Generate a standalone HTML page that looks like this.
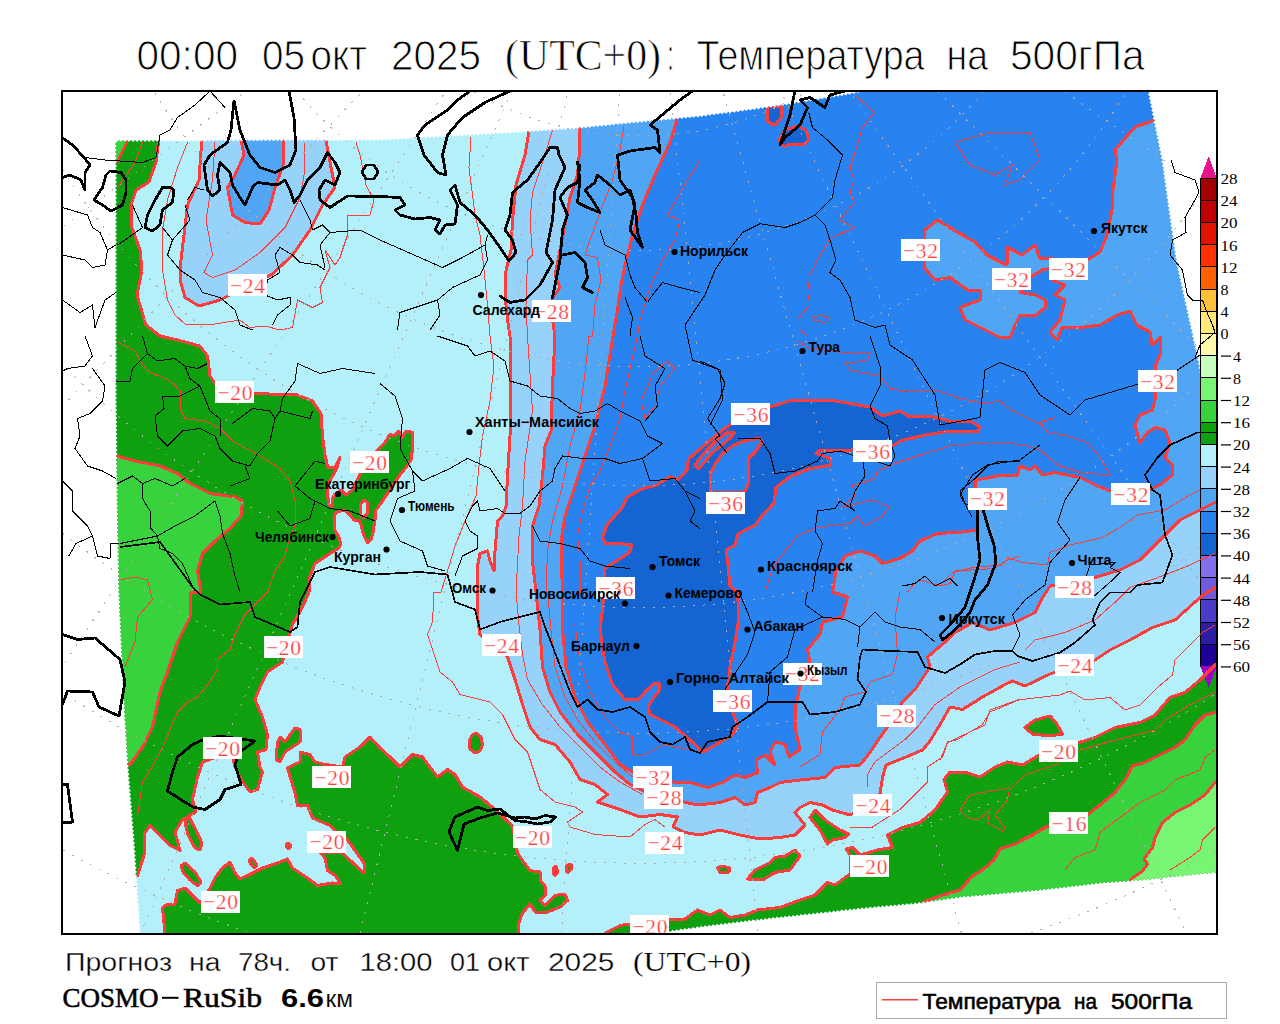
<!DOCTYPE html><html><head><meta charset="utf-8"><style>html,body{margin:0;padding:0;background:#fff}body{width:1280px;height:1024px;position:relative;overflow:hidden;font-family:"Liberation Sans",sans-serif}</style></head><body><svg width="1280" height="1024" viewBox="0 0 1280 1024" style="position:absolute;left:0;top:0">
<defs><clipPath id="fr"><rect x="62" y="91" width="1155" height="843"/></clipPath>
<clipPath id="cbclip"><rect x="1195" y="150" width="22" height="545"/></clipPath>
<clipPath id="dom"><polygon points="117,142 119,140.2 121,142 123,140.2 125,142 127,140.2 129,142 131,140.1 133.1,141.9 135.1,140.1 137.1,141.9 139.1,140.1 141.1,141.9 143.1,140.1 145.1,141.9 147.1,140.1 149.1,141.9 151.1,140.1 153.1,141.9 155.1,140.1 157.2,141.8 159.2,140 161.2,141.8 163.2,140 165.2,141.8 167.2,140 169.2,141.8 171.2,140 173.2,141.8 175.2,140 177.2,141.8 179.2,140 181.2,141.8 183.2,139.9 185.3,141.7 187.3,139.9 189.3,141.7 191.3,139.9 193.3,141.7 195.3,139.9 197.3,141.7 199.3,139.9 201.3,141.7 203.3,139.9 205.3,141.7 207.3,139.9 209.4,141.6 211.4,139.8 213.4,141.6 215.4,139.8 217.4,141.6 219.4,139.8 221.4,141.6 223.4,139.8 225.4,141.6 227.4,139.8 229.4,141.6 231.4,139.8 233.4,141.6 235.4,139.7 237.5,141.5 239.5,139.7 241.5,141.5 243.5,139.7 245.5,141.5 247.5,139.7 249.5,141.5 251.5,139.7 253.5,141.5 255.5,139.7 257.5,141.5 259.5,139.7 261.5,141.5 263.6,139.6 265.6,141.4 267.6,139.6 269.6,141.4 271.6,139.6 273.6,141.4 275.6,139.6 277.6,141.4 279.6,139.6 281.6,141.4 283.6,139.6 285.6,141.4 287.6,139.6 289.7,141.3 291.7,139.5 293.7,141.3 295.7,139.5 297.7,141.3 299.7,139.5 301.7,141.3 303.7,139.5 305.7,141.3 307.7,139.5 309.7,141.3 311.7,139.5 313.7,141.3 315.7,139.4 317.8,141.2 319.8,139.4 321.8,141.2 323.8,139.4 325.8,141.2 327.8,139.4 329.8,141.2 331.8,139.4 333.8,141.2 335.8,139.4 337.8,141.2 339.8,139.4 341.9,141.1 343.9,139.3 345.9,141.1 347.9,139.3 349.9,141.1 351.9,139.3 353.9,141.1 355.9,139.3 357.9,141.1 359.9,139.3 361.9,141.1 363.9,139.3 365.9,141.1 367.9,139.2 370,141 372,139.2 374,141 376,139.2 378,141 379.9,139.2 382,140.9 383.9,139 386,140.7 387.9,138.7 390,140.4 391.9,138.5 394,140.2 395.9,138.3 398,140 399.9,138.1 402,139.7 403.9,137.8 406,139.5 407.9,137.6 410,139.3 411.9,137.4 414,139.1 415.9,137.1 418,138.8 419.9,136.9 422,138.6 423.9,136.7 426,138.4 427.9,136.5 430,138.1 431.9,136.2 434,137.9 435.9,136 438,137.7 439.9,135.8 442,137.5 443.9,135.5 446,137.2 447.9,135.3 450,137 451.9,135.1 454,136.8 455.9,134.9 458,136.6 459.9,134.6 462,136.3 463.9,134.4 466,136.1 467.9,134.2 470,135.9 471.9,134 474,135.7 475.9,133.7 478,135.4 479.9,133.5 482,135.2 483.9,133.3 486,135 487.9,133.1 490,134.8 491.9,132.8 494,134.5 495.9,132.6 498,134.3 499.9,132.4 502,134.1 503.9,132.2 506,133.8 507.9,131.9 510,133.6 511.9,131.7 514,133.4 515.9,131.5 518,133.2 519.9,131.3 522,132.9 523.9,131 526,132.7 527.9,130.8 530,132.5 531.9,130.6 534,132.2 535.9,130.3 538,131.9 539.9,130 542,131.7 543.9,129.7 546,131.4 547.9,129.4 550,131.1 551.9,129.2 554,130.8 555.9,128.9 558,130.5 559.9,128.6 562,130.3 563.9,128.3 566,130 567.9,128 570,129.7 571.9,127.8 574,129.4 575.9,127.5 578,129.1 579.8,127.2 582,128.8 583.8,126.8 586,128.4 587.8,126.4 590,128 591.8,126 594,127.6 595.8,125.6 598,127.2 599.8,125.2 602,126.8 603.8,124.8 606,126.4 607.8,124.4 610,126 611.8,124 614,125.6 615.8,123.6 618,125.2 619.8,123.2 622,124.8 623.8,122.8 626,124.4 627.8,122.4 630,124 631.8,122 634,123.6 635.8,121.7 638,123.3 639.8,121.3 642,122.9 643.8,120.9 646,122.5 647.8,120.5 650,122.1 651.8,120.2 654,121.8 655.8,119.8 658,121.4 659.8,119.4 662,121 663.8,119.1 666,120.7 667.8,118.7 670,120.3 671.8,118.3 674,119.9 675.8,117.9 678,119.5 679.8,117.6 682,119.2 683.8,117.2 686,118.8 687.8,116.8 690,118.4 691.8,116.5 694,118.1 695.8,116.1 698,117.7 699.8,115.7 702,117.2 703.8,115.2 706.1,116.7 707.9,114.6 710.1,116.1 711.9,114.1 714.2,115.6 716,113.6 718.2,115.1 720,113 722.3,114.5 724.1,112.5 726.4,114 728.1,111.9 730.4,113.4 732.2,111.4 734.5,112.9 736.2,110.9 738.5,112.4 740.3,110.3 742.6,111.8 744.4,109.8 746.6,111.3 748.4,109.2 750.7,110.7 752.5,108.7 754.7,110.2 756.5,108.1 758.8,109.7 760.6,107.6 762.8,109.1 764.6,107.1 766.9,108.6 768.7,106.5 770.9,108 772.7,106 775,107.5 776.7,105.4 778.9,106.8 780.6,104.7 782.9,106.2 784.6,104.1 786.8,105.5 788.5,103.4 790.8,104.9 792.5,102.8 794.7,104.2 796.4,102.1 798.7,103.6 800.4,101.4 802.6,102.9 804.3,100.8 806.6,102.2 808.3,100.1 810.5,101.6 812.2,99.5 814.5,100.9 816.2,98.8 818.4,100.3 820.1,98.2 822.4,99.6 824,97.5 826.3,98.9 828,96.8 830.3,98.3 831.9,96.2 834.2,97.6 835.9,95.5 838.2,97 839.8,94.9 842.1,96.3 843.8,94.2 846.1,95.7 847.7,93.6 850,95 851.7,92.8 854.2,94.2 855.9,92 858.3,93.3 860.1,91.2 862.5,92.5 864.2,90.3 866.7,91.7 868.4,89.5 870.8,90.8 872.6,88.7 875,90 876.7,87.9 879,89.4 880.7,87.3 882.9,88.7 884.6,86.6 886.9,88.1 888.6,86 890.9,87.5 892.6,85.4 894.8,86.8 896.5,84.7 898.8,86.2 900.5,84.1 902.8,85.6 904.5,83.5 906.7,84.9 908.4,82.8 910.7,84.3 912.4,82.2 914.7,83.7 916.4,81.6 918.7,83 920.4,80.9 922.6,82.4 924.3,80.3 926.6,81.7 928.3,79.7 930.6,81.1 932.3,79 934.5,80.5 936.2,78.4 938.5,79.8 940.2,77.7 942.5,79.2 944.2,77.1 946.4,78.6 948.1,76.5 950.4,77.9 952.1,75.8 954.4,77.3 956.1,75.2 958.3,76.7 960,74.6 962.3,76 964,73.9 966.3,75.4 968,73.3 970.2,74.8 971.9,72.7 974.2,74.1 975.9,72 978.2,73.5 979.9,71.4 982.1,72.9 983.8,70.8 986.1,72.2 987.8,70.1 990.1,71.6 991.8,69.5 994,71 995.7,68.9 998,70.3 999.8,68.2 1002,69.8 1003.8,67.8 1006,69.4 1007.8,67.4 1010,68.9 1011.8,66.9 1014,68.5 1015.8,66.5 1018,68.1 1019.8,66.1 1022,67.7 1023.8,65.7 1026,67.3 1027.8,65.3 1030,66.8 1031.8,64.8 1034,66.4 1035.8,64.4 1038,66 1039.8,64 1042,65.6 1043.8,63.6 1046,65.1 1047.8,63.1 1050,64.7 1051.8,62.7 1054,64.3 1055.8,62.3 1058,63.9 1059.8,61.9 1062,63.5 1063.8,61.4 1066,63 1067.8,61 1070,62.6 1071.8,60.6 1074,62.2 1075.8,60.2 1078,61.8 1079.8,59.8 1082,61.3 1083.8,59.3 1086,60.9 1087.8,58.9 1090,60.5 1091.8,58.5 1094,60.1 1095.8,58.1 1098,59.6 1099.8,57.6 1102,59.2 1103.8,57.2 1106,58.8 1107.8,56.8 1110,58.4 1111.8,56.4 1114,58 1115.8,56 1118,57.5 1119.8,55.5 1122,57.1 1123.8,55.1 1126,56.7 1127.8,54.7 1130,56.3 1131.8,54.3 1134,55.8 1135.8,53.8 1138,55.4 1139.8,53.4 1142,55 1144.1,56.8 1142.6,59 1144.6,60.8 1143.1,63 1145.2,64.8 1143.7,67 1145.7,68.8 1144.2,71 1146.3,72.8 1144.8,75 1146.8,76.8 1145.3,79 1147.4,80.8 1145.9,83 1147.9,84.8 1146.4,87 1148.5,88.8 1147,91 1149.2,92.6 1147.8,94.9 1150,96.6 1148.6,98.9 1150.8,100.5 1149.4,102.8 1151.6,104.4 1150.2,106.8 1152.4,108.4 1151,110.7 1153.2,112.3 1151.8,114.7 1154,116.3 1152.6,118.6 1154.8,120.2 1153.4,122.5 1155.6,124.2 1154.2,126.5 1156.4,128.1 1155,130.4 1157.2,132 1155.8,134.4 1158,136 1156.6,138.3 1158.8,139.9 1157.4,142.3 1159.6,143.9 1158.2,146.2 1160.4,147.8 1159,150.1 1161.2,151.8 1159.8,154.1 1162,155.7 1160.6,158 1162.8,159.8 1161.3,162 1163.3,163.8 1161.8,166 1163.9,167.8 1162.4,170 1164.5,171.8 1163,174 1165,175.8 1163.5,178 1165.6,179.8 1164.1,182 1166.1,183.8 1164.6,186 1166.7,187.8 1165.2,190 1167.3,191.8 1165.8,194 1167.8,195.8 1166.3,198 1168.4,199.8 1166.9,202 1168.9,203.8 1167.4,206 1169.5,207.8 1168,210 1170.1,211.8 1168.6,214 1170.6,215.8 1169.1,218 1171.2,219.8 1169.7,222 1171.7,223.8 1170.2,226 1172.3,227.8 1170.8,230 1172.9,231.8 1171.4,234 1173.4,235.8 1171.9,238 1174,239.8 1172.5,242 1174.5,243.8 1173,246 1175.1,247.8 1173.6,250 1175.7,251.8 1174.2,254 1176.2,255.8 1174.7,258 1176.8,259.6 1175.4,262 1177.6,263.5 1176.3,265.9 1178.5,267.5 1177.2,269.8 1179.3,271.4 1178,273.7 1180.2,275.3 1178.9,277.6 1181.1,279.2 1179.7,281.6 1181.9,283.1 1180.6,285.5 1182.8,287.1 1181.5,289.4 1183.7,291 1182.3,293.3 1184.5,294.9 1183.2,297.3 1185.4,298.8 1184.1,301.2 1186.2,302.8 1184.9,305.1 1187.1,306.7 1185.8,309 1188,310.6 1186.6,312.9 1188.8,314.5 1187.5,316.9 1189.7,318.4 1188.4,320.8 1190.6,322.4 1189.2,324.7 1191.4,326.3 1190.1,328.6 1192.3,330.2 1191,332.5 1193.2,334.1 1191.8,336.5 1194,338 1192.7,340.4 1194.9,342 1193.5,344.3 1195.7,345.9 1194.4,348.2 1196.6,349.8 1195.3,352.2 1197.5,353.7 1196.1,356.1 1198.3,357.7 1197,360 1199.1,361.7 1197.7,364 1199.9,365.7 1198.4,368 1200.6,369.7 1199.2,372 1201.3,373.7 1199.9,376 1202,377.7 1200.6,380 1202.7,381.7 1201.3,384 1203.5,385.7 1202,388 1204.2,389.7 1202.8,392 1204.9,393.7 1203.5,396 1205.6,397.7 1204.2,400 1206.3,401.7 1204.9,404 1207.1,405.7 1205.6,408 1207.8,409.7 1206.4,412 1208.5,413.7 1207.1,416 1209.2,417.7 1207.8,420 1209.9,421.7 1208.5,424 1210.7,425.7 1209.2,428 1211.4,429.7 1210,432 1212.1,433.7 1210.7,436 1212.8,437.7 1211.4,440 1213.5,441.7 1212.1,444 1214.3,445.7 1212.8,448 1215,449.7 1213.6,452 1215.7,453.7 1214.3,456 1216.4,457.7 1215,460 1217.1,461.7 1215.7,463.9 1217.8,465.6 1216.4,467.9 1218.5,469.5 1217.1,471.8 1219.2,473.5 1217.8,475.8 1219.9,477.4 1218.5,479.7 1220.6,481.4 1219.2,483.7 1221.3,485.3 1219.9,487.6 1222.1,489.3 1220.6,491.5 1222.8,493.2 1221.3,495.5 1223.5,497.1 1222,499.4 1224.2,501.1 1222.7,503.4 1224.9,505 1223.5,507.3 1225.6,509 1224.2,511.3 1226.3,512.9 1224.9,515.2 1227,516.9 1225.6,519.2 1227.7,520.8 1226.3,523.1 1228.4,524.8 1227,527 1229.1,528.7 1227.7,531 1229.8,532.6 1228.4,534.9 1230.5,536.6 1229.1,538.9 1231.2,540.5 1229.8,542.8 1231.9,544.5 1230.5,546.8 1232.6,548.4 1231.2,550.7 1233.3,552.4 1231.9,554.6 1234,556.3 1232.6,558.6 1234.7,560.2 1233.3,562.5 1235.4,564.2 1234,566.5 1236.1,568.1 1234.7,570.4 1236.8,572.1 1235.4,574.4 1237.5,576 1236.1,578.3 1238.3,580 1236.8,582.3 1239,583.9 1237.5,586.2 1239.7,587.9 1238.2,590.1 1240.4,591.8 1238.9,594.1 1241.1,595.7 1239.6,598 1241.8,600 1240,602 1241.8,604 1240,606 1241.8,608 1240,610 1241.8,612 1240,614 1241.8,616 1240,618 1241.8,620 1240,622 1241.8,624 1240,626 1241.8,628 1240,630 1241.8,632 1240,634 1241.8,636 1240,638 1241.8,640 1240,642 1241.8,644 1240,646 1241.8,648 1240,650 1241.8,652 1240,654 1241.8,656 1240,658 1241.8,660 1240,662 1241.8,664 1240,666 1241.8,668 1240,670 1241.8,672 1240,674 1241.8,676 1240,678 1241.8,680 1240,682 1241.8,684 1240,686 1241.8,688 1240,690 1241.8,692 1240,694 1241.8,696 1240,698 1241.8,700 1240,702 1241.8,704 1240,706 1241.8,708 1240,710 1241.8,712 1240,714 1241.8,716 1240,718 1241.8,720 1240,722 1241.8,724 1240,726 1241.8,728 1240,730 1241.8,732 1240,734 1241.8,736 1240,738 1241.8,740 1240,742 1241.8,744 1240,746 1241.8,748 1240,750 1241.8,752 1240,754 1241.8,756 1240,758 1241.8,760 1240,762 1241.8,764 1240,766 1241.8,768 1240,770 1241.8,772 1240,774 1241.8,776 1240,778 1241.8,780 1240,782 1241.8,784 1240,786 1241.8,788 1240,790 1241.8,792 1240,794 1241.8,796 1240,798 1241.8,800 1240,802 1241.8,804 1240,806 1241.8,808 1240,810 1241.8,812 1240,814 1241.8,816 1240,818 1241.8,820 1240,822 1241.8,824 1240,826 1241.8,828 1240,830 1241.8,832 1240,834 1241.8,836 1240,838 1241.8,840 1240,842 1241.8,844 1240,846 1241.8,848 1240,850 1241.8,852 1240,854 1241.8,856 1240,858 1241.8,860 1240,862 1241.8,864 1240,866 1240.2,869.8 1237.9,868.3 1236.1,870.3 1233.7,868.8 1231.9,870.9 1229.5,869.4 1227.7,871.4 1225.4,869.9 1223.5,872 1221.2,870.5 1219.3,872.5 1217,871 1215.2,873 1212.9,871.4 1211.1,873.4 1208.9,871.8 1207.1,873.8 1204.8,872.3 1203,874.3 1200.8,872.7 1198.9,874.7 1196.7,873.1 1194.9,875.1 1192.7,873.5 1190.8,875.5 1188.6,873.9 1186.8,875.9 1184.6,874.4 1182.7,876.4 1180.5,874.8 1178.7,876.8 1176.5,875.2 1174.6,877.2 1172.4,875.6 1170.6,877.6 1168.4,876.1 1166.5,878.1 1164.3,876.5 1162.5,878.5 1160.3,876.9 1158.4,878.9 1156.2,877.3 1154.4,879.3 1152.2,877.7 1150.3,879.7 1148.1,878.2 1146.3,880.2 1144.1,878.6 1142.2,880.6 1140,879 1138.1,880.9 1136,879.3 1134.1,881.2 1132,879.6 1130.1,881.5 1128,879.9 1126.1,881.8 1124,880.2 1122.1,882.1 1120,880.5 1118.1,882.4 1116,880.8 1114.1,882.7 1112,881.1 1110.1,883 1108,881.4 1106.1,883.3 1104,881.7 1102.1,883.6 1100,882 1098.2,884 1096,882.5 1094.2,884.5 1092,882.9 1090.2,885 1088,883.4 1086.2,885.4 1084,883.9 1082.2,885.9 1080,884.3 1078.2,886.4 1076,884.8 1074.2,886.8 1072,885.3 1070.2,887.3 1068,885.7 1066.2,887.8 1064,886.2 1062.2,888.2 1060,886.7 1058.2,888.7 1056,887.1 1054.2,889.2 1052,887.6 1050.2,889.6 1048,888.1 1046.2,890.1 1044,888.5 1042.2,890.6 1040,889 1038.2,891 1036,889.4 1034.2,891.3 1032,889.7 1030.2,891.7 1028,890 1026.2,892 1024,890.4 1022.2,892.4 1020,890.8 1018.2,892.7 1016,891.1 1014.2,893.1 1012,891.5 1010.2,893.4 1008,891.8 1006.2,893.8 1004,892.1 1002.2,894.1 1000,892.5 998.2,894.5 996,892.9 994.2,894.8 992,893.2 990.2,895.2 988,893.5 986.2,895.5 984,893.9 982.2,895.9 980,894.2 978.2,896.2 976,894.6 974.2,896.6 972,895 970.2,896.9 968,895.3 966.2,897.3 964,895.6 962.2,897.6 960,896 958.2,898.1 955.9,896.6 954.1,898.7 951.8,897.2 950,899.3 947.7,897.8 945.9,899.8 943.6,898.4 941.8,900.4 939.5,899 937.8,901 935.5,899.5 933.7,901.6 931.4,900.1 929.6,902.2 927.3,900.7 925.5,902.8 923.2,901.3 921.4,903.4 919.1,901.9 917.3,904 915,902.5 913.1,904.5 910.9,902.9 909.1,904.8 906.9,903.2 905,905.2 902.8,903.6 900.9,905.6 898.7,904 896.8,906 894.6,904.4 892.8,906.3 890.6,904.7 888.7,906.7 886.5,905.1 884.6,907.1 882.4,905.5 880.5,907.4 878.3,905.8 876.5,907.8 874.3,906.2 872.4,908.2 870.2,906.6 868.3,908.6 866.1,906.9 864.2,908.9 862,907.3 860.2,909.3 858,907.7 856.1,909.7 853.9,908.2 852,910.2 849.8,908.6 847.9,910.7 845.7,909.1 843.8,911.1 841.6,909.5 839.7,911.6 837.5,910 835.7,912 833.4,910.5 831.6,912.5 829.3,910.9 827.5,912.9 825.2,911.4 823.4,913.4 821.1,911.8 819.3,913.8 817,912.3 815.2,914.3 813,912.7 811.2,914.7 809,913.1 807.2,915.2 805,913.6 803.2,915.6 801,914 799.2,916 797,914.5 795.2,916.5 793,914.9 791.2,916.9 789,915.3 787.2,917.3 785,915.8 783.2,917.8 781,916.2 779.2,918.2 777,916.6 775.2,918.6 773,917 771.2,919.1 769,917.5 767.2,919.5 765,917.9 763.2,919.9 761,918.4 759.2,920.4 757,918.8 755.2,920.8 753,919.2 751.2,921.3 749,919.8 747.2,921.8 745,920.2 743.2,922.3 741,920.8 739.2,922.8 737,921.2 735.2,923.3 733,921.8 731.2,923.8 729,922.2 727.2,924.3 725,922.8 723.2,924.8 721,923.2 719.2,925.3 717,923.8 715.2,925.8 713,924.2 711.2,926.3 709,924.8 707.2,926.8 705,925.2 703.2,927.3 701,925.8 699.3,927.8 697,926.3 695.2,928.4 692.9,926.9 691.1,928.9 688.8,927.5 687,929.5 684.7,928 682.9,930.1 680.6,928.6 678.8,930.7 676.5,929.2 674.8,931.3 672.5,929.8 670.7,931.9 668.4,930.4 666.6,932.4 664.3,931 662.5,933 660.2,931.5 658.4,933.6 656.1,932.1 654.3,934.2 652,932.7 650.2,934.8 648,933.3 646.2,935.3 644,933.8 642.2,935.9 640,934.4 638.2,936.5 636,935 634.2,937 632,935.5 630.2,937.6 628,936.1 626.2,938.1 624,936.6 622.2,938.7 620,937.2 618.2,939.3 616,937.8 614.2,939.8 612,938.3 610.2,940.4 608,938.9 606.2,940.9 604,939.4 602.2,941.5 600,940 598,941.8 596,940 594,941.8 592,940 590,941.8 588,940 586,941.8 584,940 582,941.8 580,940 578,941.8 575.9,940 573.9,941.8 571.9,940 569.9,941.8 567.9,940 565.9,941.8 563.9,940 561.9,941.8 559.9,940 557.9,941.8 555.9,940 553.9,941.8 551.9,940 549.9,941.8 547.9,940 545.9,941.8 543.9,940 541.9,941.8 539.9,940 537.9,941.8 535.9,940 533.9,941.8 531.9,940 529.8,941.8 527.8,940 525.8,941.8 523.8,940 521.8,941.8 519.8,940 517.8,941.8 515.8,940 513.8,941.8 511.8,940 509.8,941.8 507.8,940 505.8,941.8 503.8,940 501.8,941.8 499.8,940 497.8,941.8 495.8,940 493.8,941.8 491.8,940 489.8,941.8 487.8,940 485.8,941.8 483.7,940 481.7,941.8 479.7,940 477.7,941.8 475.7,940 473.7,941.8 471.7,940 469.7,941.8 467.7,940 465.7,941.8 463.7,940 461.7,941.8 459.7,940 457.7,941.8 455.7,940 453.7,941.8 451.7,940 449.7,941.8 447.7,940 445.7,941.8 443.7,940 441.7,941.8 439.7,940 437.6,941.8 435.6,940 433.6,941.8 431.6,940 429.6,941.8 427.6,940 425.6,941.8 423.6,940 421.6,941.8 419.6,940 417.6,941.8 415.6,940 413.6,941.8 411.6,940 409.6,941.8 407.6,940 405.6,941.8 403.6,940 401.6,941.8 399.6,940 397.6,941.8 395.6,940 393.6,941.8 391.5,940 389.5,941.8 387.5,940 385.5,941.8 383.5,940 381.5,941.8 379.5,940 377.5,941.8 375.5,940 373.5,941.8 371.5,940 369.5,941.8 367.5,940 365.5,941.8 363.5,940 361.5,941.8 359.5,940 357.5,941.8 355.5,940 353.5,941.8 351.5,940 349.5,941.8 347.4,940 345.4,941.8 343.4,940 341.4,941.8 339.4,940 337.4,941.8 335.4,940 333.4,941.8 331.4,940 329.4,941.8 327.4,940 325.4,941.8 323.4,940 321.4,941.8 319.4,940 317.4,941.8 315.4,940 313.4,941.8 311.4,940 309.4,941.8 307.4,940 305.4,941.8 303.4,940 301.3,941.8 299.3,940 297.3,941.8 295.3,940 293.3,941.8 291.3,940 289.3,941.8 287.3,940 285.3,941.8 283.3,940 281.3,941.8 279.3,940 277.3,941.8 275.3,940 273.3,941.8 271.3,940 269.3,941.8 267.3,940 265.3,941.8 263.3,940 261.3,941.8 259.3,940 257.3,941.8 255.2,940 253.2,941.8 251.2,940 249.2,941.8 247.2,940 245.2,941.8 243.2,940 241.2,941.8 239.2,940 237.2,941.8 235.2,940 233.2,941.8 231.2,940 229.2,941.8 227.2,940 225.2,941.8 223.2,940 221.2,941.8 219.2,940 217.2,941.8 215.2,940 213.2,941.8 211.2,940 209.1,941.8 207.1,940 205.1,941.8 203.1,940 201.1,941.8 199.1,940 197.1,941.8 195.1,940 193.1,941.8 191.1,940 189.1,941.8 187.1,940 185.1,941.8 183.1,940 181.1,941.8 179.1,940 177.1,941.8 175.1,940 173.1,941.8 171.1,940 169.1,941.8 167.1,940 165.1,941.8 163,940 161,941.8 159,940 157,941.8 155,940 153,941.8 151,940 149,941.8 147,940 145,941.8 143,940 139.2,940 141,937.7 139.2,935.3 141,933 139.1,931 140.7,928.7 138.8,926.7 140.4,924.4 138.5,922.4 140.1,920.1 138.2,918.1 139.9,916 137.9,914.1 139.6,912 137.7,910.1 139.3,908 137.4,906.1 139.1,904 137.2,902.1 138.8,900 136.9,898.1 138.6,896 136.6,894.1 138.3,892 136.4,890.1 138,888 136.1,886.1 137.8,884 135.8,882.1 137.5,880 135.6,878.1 137.2,875.9 135.3,874 136.9,871.8 135,869.8 136.7,867.7 134.7,865.7 136.4,863.6 134.5,861.6 136.1,859.4 134.2,857.5 135.8,855.3 133.9,853.4 135.6,851.2 133.6,849.3 135.3,847.1 133.3,845.2 135,843 133,841.1 134.7,838.9 132.7,837.1 134.4,834.9 132.4,833 134,830.8 132.1,829 133.7,826.8 131.7,824.9 133.4,822.7 131.4,820.8 133.1,818.7 131.1,816.8 132.7,814.6 130.8,812.7 132.4,810.6 130.4,808.7 132.1,806.5 130.1,804.6 131.8,802.5 129.8,800.6 131.4,798.4 129.5,796.5 131.1,794.4 129.2,792.5 130.8,790.3 128.8,788.4 130.5,786.2 128.5,784.4 130.1,782.2 128.2,780.3 129.8,778.1 127.9,776.3 129.5,774.1 127.5,772.2 129.2,770 127.2,768.1 128.9,766 127,764.1 128.6,762 126.7,760.1 128.4,758 126.5,756.1 128.2,754 126.3,752.1 127.9,750 126,748.1 127.7,746 125.8,744.1 127.5,742 125.6,740.1 127.2,738 125.3,736.1 127,734 125.1,732.1 126.8,730 124.9,728.1 126.5,726 124.6,724.1 126.3,722 124.4,720.1 126.1,718 124.1,716.1 125.8,714 123.9,712.1 125.6,710 123.7,708.1 125.4,706 123.4,704.1 125.1,702 123.2,700.1 124.9,698 123,696.1 124.7,694 122.8,692.1 124.5,690 122.6,688.1 124.4,686 122.5,684.1 124.2,682 122.3,680.1 124,678 122.1,676.1 123.8,674 121.9,672.1 123.6,670 121.7,668.1 123.4,666 121.5,664.1 123.2,662 121.4,660.1 123.1,658 121.2,656.1 122.9,654 121,652.1 122.7,650 120.8,648.1 122.5,646 120.6,644.1 122.3,642 120.4,640.1 122.1,638 120.2,636.1 121.9,634 120.1,632.1 121.8,630 119.9,628.1 121.6,626 119.7,624.1 121.4,622 119.5,620.1 121.2,618 119.3,616.1 121,614 119.1,612.1 120.8,610 118.9,608.1 120.6,606 118.8,604.1 120.5,602 118.6,600.1 120.3,598 118.4,596.1 120.1,594 118.2,592 120,590 118.1,588 119.9,586 118.1,584 119.8,582 118,580 119.7,578 117.9,576 119.7,574 117.8,572 119.6,570 117.8,568 119.5,566 117.7,564 119.4,562 117.6,560 119.4,558 117.5,556 119.3,554 117.5,552 119.2,550 117.4,548 119.1,546 117.3,544 119.1,542 117.2,540 119,538 117.2,536 118.9,534 117.1,532 118.8,530 117,528 118.8,526 116.9,524 118.7,522 116.9,520 118.6,518 116.8,516 118.5,514 116.7,512 118.5,510 116.6,508 118.4,506 116.6,504 118.4,502 116.5,500 118.3,498 116.5,496 118.3,494 116.4,492 118.2,490 116.4,488 118.2,486 116.3,484 118.1,482 116.3,480 118,478 116.2,476 118,474 116.2,472 117.9,470 116.1,468 117.9,466 116.1,464 117.8,462 116,460 117.8,458 116,456 117.7,454 115.9,452 117.7,450 115.8,448 117.6,446 115.8,444 117.6,442 115.7,440 117.5,438 115.7,436 117.5,434 115.6,432 117.4,430 115.6,428 117.3,426 115.5,424 117.3,422 115.5,420 117.2,418 115.4,416 117.2,414 115.4,412 117.1,410 115.3,408 117.1,406 115.3,404 117,402 115.2,400 117,398 115.2,396 117,394 115.2,392 117,390 115.2,388 117,386 115.2,384 117,382 115.2,380 117,378 115.2,376 117,374 115.2,372 117,370 115.2,368 117,366 115.2,364 117,362 115.2,360 117,358 115.2,356 117,354 115.2,352 117,350 115.2,348 117,346 115.2,344 117,342 115.2,340 117,338 115.2,336 117,334 115.2,332 117,330 115.2,328 117,326 115.2,324 117,322 115.2,320 117,318 115.2,316 117,314 115.2,312 117,310 115.2,308 117,306 115.2,304 117,302 115.2,300 117,298 115.2,296 117,294 115.2,292 117,290 115.2,288 117,286 115.2,284 117,282 115.2,280 117,278 115.2,276 117,274 115.2,272 117,270 115.2,268 117,266 115.2,264 117,262 115.2,260 117,258 115.2,256 117,254 115.2,252 117,250 115.2,248 117,246 115.2,244 117,242 115.2,240 117,238 115.2,236 117,234 115.2,232 117,230 115.2,228 117,226 115.2,224 117,222 115.2,220 117,218 115.2,216 117,214 115.2,212 117,210 115.2,208 117,206 115.2,204 117,202 115.2,200 117,198 115.2,196 117,194 115.2,192 117,190 115.2,188 117,186 115.2,184 117,182 115.2,180 117,178 115.2,176 117,174 115.2,172 117,170 115.2,168 117,166 115.2,164 117,162 115.2,160 117,158 115.2,156 117,154 115.2,152 117,150 115.2,148 117,146 115.2,144"/></clipPath></defs>
<rect width="1280" height="1024" fill="#fff"/>
<g clip-path="url(#fr)" shape-rendering="crispEdges"><g clip-path="url(#dom)">
<rect x="60" y="80" width="1200" height="870" fill="#b4f0fa"/>
<polygon points="202.5,130 199,180 187.5,205 184,235 181,260 180,280 185,297.5 199,306 220,300 240,290 272.5,274 292.5,255 310,230 322.5,205 335,187.5 331,167.5 324,130" fill="#96d2fa" stroke="#ff3c3c" stroke-width="3" stroke-linejoin="round"/>
<polygon points="239,130 244,155 235,175 227.5,187.5 232.5,215 245,222.5 260,224 269,210 275,187.5 284,162.5 282.5,130" fill="#50a5f5" stroke="#ff3c3c" stroke-width="3" stroke-linejoin="round"/>
<polygon points="530,40 530,125 525,155 516,185 512.5,220 511,250 505,275 505,295 507.5,320 510,336 511,386 510,436 507.5,476 506,506 502.5,516 497.5,521 495,551 494,571 490,561 487.5,551 480,553.5 477.5,566 478,592 477.5,617 480,634.5 507.5,657 515,679.5 522.5,704.5 530,727 540,739.5 555,744.5 570,762 580,779.5 595,784.5 607.5,794.5 597.5,802 620,809.5 640,817 660,814.5 677.5,817 673,827 685,832.5 700,835 720,830 740,835 760,839 780,837.5 795,835 805,825 795,812.5 800,807.5 810,802.5 822.5,805 832.5,810 850,815 870,805 880,794 882.5,777.5 886,765 905,757.5 922.5,750 930,741 940,724.5 950,707 962.5,709.5 982.5,697 1005,684.5 1012.5,681 1025,686 1037.5,680 1050,674 1095,660 1110,650 1130,640 1152.5,627.5 1175,620 1200,597.5 1215,587.5 1250,570 1250,40" fill="#96d2fa" stroke="#ff3c3c" stroke-width="3" stroke-linejoin="round"/>
<polygon points="579,40 579,120 580,145 577.5,175 570,197.5 566,220 560,250 555,275 560,287.5 552.5,297.5 552.5,320 555,336 552.5,386 551,431 545,446 542.5,476 539,506 532.5,526 532.5,561 536,592 540,629.5 542.5,667 550,692 560,712 577.5,734.5 595,752 615,772 630,784.5 645,792 684,802 697.5,805 720,802.5 735,797.5 745,805 755,802.5 757.5,792.5 770,787.5 780,782.5 800,780 825,777.5 835,767.5 860,765 870,752.5 875,744.5 887.5,727 902.5,702 915,689.5 930,667 927.5,657 945,642 955,632.5 972.5,622.5 990,630 1015,622.5 1035,612.5 1042.5,597.5 1050,586 1095,577.5 1120,570 1140,560 1155,545 1165,535 1180,520 1200,510 1215,502.5 1250,490 1250,40" fill="#50a5f5" stroke="#ff3c3c" stroke-width="3" stroke-linejoin="round"/>
<polygon points="677,40 677.5,117.5 670,142.5 655,175 642.5,205 632.5,235 625,265 621,285 617.5,310 613,336 605,386 595,426 585,456 575,486 565,516 561,541 561,566 563,592 562.5,629.5 566,667 575,697 587.5,722 605,744.5 620,764.5 632.5,772 672.5,782 690,782.5 707.5,787.5 722.5,782.5 735,775 745,777.5 757.5,772.5 756,760 765,755 775,765 770,752 775,742 785,744.5 789,757 800,749.5 795,727 796,704.5 800,687 810,662 807.5,649.5 820,634.5 822.5,622 842.5,617 847.5,597 832.5,592 836,571 845,556 860,551 875,556 882.5,563.5 900,558.5 912.5,551 920,541 937.5,533.5 962.5,532 977,530 977.5,507.5 975,480 990,477.5 1002.5,475 1017.5,475 1020,466 1030,470 1035,466 1042.5,475 1055,472.5 1080,477.5 1095,485 1110,491 1150,490 1160,485 1172.5,475 1172.5,465 1165,457.5 1170,442.5 1165,430 1155,427.5 1147.5,432.5 1140,442.5 1135,425 1140,415 1152.5,410 1155,400 1157,380 1155,367 1160,355 1161,337 1152,345 1150,332 1137,325 1130,311 1117,315 1100,325 1085,327 1062,327 1057,340 1050,332 1060,320 1065,300 1055,295 1065,285 1052,280 1050,265 1087,260 1100,252 1107,235 1112,210 1113,190 1117,160 1115,150 1135,127 1155,120 1170,100 1170,40" fill="#2882f0" stroke="#ff3c3c" stroke-width="3" stroke-linejoin="round"/>
<polygon points="937.5,220 925,230 924,267.5 935,280 950,277.5 967.5,290 980,290 980,300 960,307.5 965,320 985,330 1000,337.5 1010,337.5 1015,325 1020,315 1035,316 1045,307.5 1045,300 1035,295 1020,292.5 1030,277.5 1042,270 1052,268 1052,258 1040,259 1035,245 1022,255 1007.5,247.5 1007,265 1000,262 987,255 975,242 957,232" fill="#50a5f5" stroke="#ff3c3c" stroke-width="3" stroke-linejoin="round"/>
<polygon points="730,425 723,429.7 712,439 699,450 688.5,459 687,470 677.5,480 670,476.5 657,485 641.5,489 627.5,497 621,509 607,525 602.5,537.5 605.6,543.75 621,543.75 632,545 629,553 618,560 605,568.5 604,592 602.5,609.5 600,629.5 605,662 612.5,684.5 625,699.5 638,700 646,691 654,683.5 659,683 659,691 653,699 648,706 650,714.5 660,719.5 675,727 690,740 703,752 715,745 732.5,735 737.5,724.5 732.5,712 727.5,687 730,667 735,642 739,617 737.5,592 730,586 727.5,560 726,550 735,545 738,534 755.6,525 762,515.6 774,503 776,487.5 790,476.5 810,468.5 831,465 830,458.5 816,453.5 820,450 851,450 892.5,446 900,441 925,435 950,431 977.5,432 980,427 970,421 950,421 930,416 910,417 900,411 882.5,416 870,407 850,403.5 830,400 792.5,400 770,407 750,415" fill="#1464d2" stroke="#ff3c3c" stroke-width="3" stroke-linejoin="round"/>
<polygon points="710,492 710,475 715,464 723,453 734,445 746,440.6 760,438 762,442 755.6,451.5 748,459 749,469 748,484 744.7,492" fill="#2882f0" stroke="#ff3c3c" stroke-width="3" stroke-linejoin="round"/>
<polygon points="694.7,465.6 699,468.75 712,453 730.6,437.5 734.5,433 727.5,432 715,442 702.5,454.7" fill="#2882f0" stroke="#ff3c3c" stroke-width="3" stroke-linejoin="round"/>
<polygon points="767,108 770,106 782,106 781,118 775,125 768,122" fill="#1464d2" stroke="#ff3c3c" stroke-width="3" stroke-linejoin="round"/>
<polygon points="779,140 785,130 797,126 806,130 809,140 803,145 790,144 784,147" fill="#1464d2" stroke="#ff3c3c" stroke-width="3" stroke-linejoin="round"/>
<polygon points="100,130 160,130 156,162 149,182 136,190 131,205 131,225 140,250 142,270 137,295 146,325 160,336 177.5,340 200,346 207.5,356 210,376 215,383.5 235,392 255,393.5 297.5,395 312.5,401 321,413.5 322.5,436 325,455 328,468 335,467 340,457 337,468 332,477 328,484 327,492 329,505 332,507 332,500 334,495 341,490 346,495 352.5,490 357.5,479 361,472.5 377.5,450 385,442.5 390,434 394,436 399,431 402.5,437.5 406,431 412.5,432.5 413,445 411,460 406,467.5 399,476 390,490 382.5,501 376,510 375,520 373,532.5 371,540 367.5,542.5 364,536 361,525 359,520 354,520 350,515 344,510 336,512.5 334,517.5 335,530 339,537.5 341,544 339,548 330,553.5 315,563.5 310,576 309,592 302.5,607 292.5,624.5 285,650 282.5,662 267.5,672 260,687 255,699.5 262.5,717 267.5,734.5 266,749.5 257.5,752 260,767 262.5,772 257.5,789.5 250,792 242.5,782 235,767 232.5,757 220,756 202.5,762 197.5,777 192.5,799.5 196,812 182.5,819.5 175,832 180,850.5 170,845.5 160,835.5 150,825.5 145,833 144,855.5 137.5,875.5 100,880" fill="#0fa00f" stroke="#ff3c3c" stroke-width="3" stroke-linejoin="round"/>
<polygon points="360,505 364,500 368,503 367,514 363,518 360,514" fill="#b4f0fa" stroke="#ff3c3c" stroke-width="3" stroke-linejoin="round"/>
<polygon points="165,945 165,933 162.5,908 167.5,904 175,904 177.5,890.5 185,888 192.5,895.5 200,903 210,888 215,878 222.5,868 230,862 235,873 240,879 252.5,873 262.5,868 277.5,863 287.5,859 292.5,868 307.5,878 317.5,885.5 332.5,883 341,884 335,875.5 327.5,870.5 325,858 320,852 341,852 364,873 364,863 346,838 342.5,838 330,825.5 312.5,818 307.5,805.5 297.5,805.5 295,793 287.5,768 300,762 300,752 310,754.5 315,762 325,764.5 342.5,767 345,757 360,747 370,737 380,748 390,757 400,767 412.5,754.5 422.5,757 437.5,777 447.5,769.5 455,774.5 462.5,787 480,797 495,809.5 512.5,826 517.5,853 525,864 530,870.5 540,872 540,880.5 545,885.5 545,895.5 540,900.5 545,905.5 555,895.5 565,894 567.5,900.5 560,907 545,913 535,912 530,904 522.5,913 519,923 517.5,945" fill="#0fa00f" stroke="#ff3c3c" stroke-width="3" stroke-linejoin="round"/>
<polygon points="280,737 285,742 295,728 300,729.5 300,742 285,752 280,762 276,759.5 277.5,742" fill="#0fa00f" stroke="#ff3c3c" stroke-width="3" stroke-linejoin="round"/>
<polygon points="185,822 189,817 195,828 202,843 200,850 195,848 188,835" fill="#0fa00f" stroke="#ff3c3c" stroke-width="3" stroke-linejoin="round"/>
<polygon points="181,866 185,863 195,872 201,882 198,886 190,880 183,872" fill="#0fa00f" stroke="#ff3c3c" stroke-width="3" stroke-linejoin="round"/>
<polygon points="249,860 252,858 257,865 255,868 251,865" fill="#0fa00f" stroke="#ff3c3c" stroke-width="3" stroke-linejoin="round"/>
<polygon points="286,845 288,843 291,846 289,849 287,848" fill="#0fa00f" stroke="#ff3c3c" stroke-width="3" stroke-linejoin="round"/>
<polygon points="476,733 481,737 482.5,745 480,751 475,753 470,749 469,741 472,735" fill="#0fa00f" stroke="#ff3c3c" stroke-width="3" stroke-linejoin="round"/>
<polygon points="747.5,879 755,870 770,862.5 775,857.5 785,856 795,850 800,856 790,870 775,872.5 762.5,880" fill="#0fa00f" stroke="#ff3c3c" stroke-width="3" stroke-linejoin="round"/>
<polygon points="810,817.5 815,810 825,820 840,830 849,834 845,837.5 832.5,840 827.5,844 820,830" fill="#0fa00f" stroke="#ff3c3c" stroke-width="3" stroke-linejoin="round"/>
<polygon points="1025,727.5 1035,720 1050,716 1056,722.5 1062.5,734 1050,736 1032.5,734" fill="#0fa00f" stroke="#ff3c3c" stroke-width="3" stroke-linejoin="round"/>
<polygon points="553,868 556,866 558,872 555,876 553,873" fill="#0fa00f" stroke="#ff3c3c" stroke-width="3" stroke-linejoin="round"/>
<polygon points="566,866 571,864 572,868 568,873 566,870" fill="#0fa00f" stroke="#ff3c3c" stroke-width="3" stroke-linejoin="round"/>
<polygon points="717.5,868 722,866 730,868 729,872 720,873" fill="#0fa00f" stroke="#ff3c3c" stroke-width="3" stroke-linejoin="round"/>
<polygon points="605,945 605,933 620,925.5 630,924 670,919 685,919 697.5,910 710,915 720,910 730,917.5 745,915 757.5,910 780,907.5 800,900 815,895 827.5,882.5 835,885 850,874 850,855 846,849 852.5,847.5 860,855 877.5,850 892.5,847.5 887.5,835 902.5,827.5 920,822.5 935,810 947.5,792 944,779.5 950,772 965,772 980,777 995,767 1007.5,762 1022.5,765 1037.5,756 1079,742.5 1095,737.5 1115,727.5 1140,722.5 1155,715 1170,697.5 1185,692.5 1200,680 1215,665 1250,640 1250,945" fill="#0fa00f" stroke="#ff3c3c" stroke-width="3" stroke-linejoin="round"/>
<polygon points="100,456 117,456 135,461 160,466 177.5,473.5 190,483.5 210,493.5 235,497 242.5,501 241,516 230,528.5 215,541 202.5,553.5 197.5,571 201,592 191,592 190,617 177.5,642 167.5,672 160,692 152.5,727 142.5,747 130,764.5 100,770" fill="#37d23c" stroke="#ff3c3c" stroke-width="3" stroke-linejoin="round"/>
<polygon points="100,130 128,130 127,142 117,162 100,165" fill="#37d23c" stroke="#ff3c3c" stroke-width="3" stroke-linejoin="round"/>
<polygon points="1250,700 1215,712.5 1205,715 1195,725 1185,740 1175,747.5 1160,755 1145,762.5 1132.5,766 1125,780 1115,792.5 1100,805 1087.5,815 1045,827.5 1032.5,835 1015,844 1000,849 994,860 982.5,870 972.5,876 960,890 940,896 922.5,902.5 900,945 1250,945" fill="#37d23c" stroke="#ff3c3c" stroke-width="3" stroke-linejoin="round"/>
<polygon points="1250,765 1215,782.5 1205,795 1190,805 1175,812.5 1162.5,822.5 1155,837.5 1152.5,847.5 1144,859 1147.5,864 1142.5,871 1131,879 1120,900 1250,900" fill="#78f573" stroke="#ff3c3c" stroke-width="3" stroke-linejoin="round"/>
<polyline points="142.5,142.5 135,162.5 117.5,187.5" fill="none" stroke="#ff3c3c" stroke-width="1"/>
<polyline points="187.5,142.5 177.5,167.5 167.5,200 162.5,230 162.5,270 167.5,300 175,315 185,324 215,324 240,320 250,327.5 265,326 280,330 292.5,327.5 297.5,300 312.5,307.5 322.5,302.5 320,287.5 330,267.5 325,250 335,265 340,257.5 347.5,235 347.5,215 370,215 374,200 366,185 360,155 356,142.5" fill="none" stroke="#ff3c3c" stroke-width="1"/>
<polyline points="215,142.5 212.5,180 206,220 212.5,255 204,272.5 212.5,277.5 235,270 260,252.5 285,227.5 300,197.5 304,175 304,142.5" fill="none" stroke="#ff3c3c" stroke-width="1"/>
<polyline points="471,137.5 469,167.5 475,215 480,235 484,270 487.5,305 490,336 494,366 490,401 482.5,436 479,466 476,496 465,521 455,546 447.5,571 441,592 434,592 432.5,622 427.5,634.5 435,657 440,672 452.5,682 460,694.5 490,702 502.5,714.5 515,739.5 527.5,752 540,789.5 555,802 575,807 582.5,812 567.5,822 570,827 595,834.5 630,837 645,824.5 655,819.5 665,827" fill="none" stroke="#ff3c3c" stroke-width="1"/>
<polyline points="552.5,130 542.5,162.5 532.5,192.5 530,220 532.5,255 527.5,260 526,305 527.5,336 530,373.5 532.5,411 525,461 522.5,506 519,536 516,592 519,624.5 522.5,654.5 527.5,679.5 542.5,704.5 560,727 580,747 600,767 620,782 642.5,794.5" fill="none" stroke="#ff3c3c" stroke-width="1"/>
<polyline points="624,126 620,150 612.5,180 600,212.5 590,240 585,255 597.5,257.5 601,280 595,305 592.5,336 589,336 585,373.5 580,411 570,446 562.5,486 552.5,521 547.5,551 546,592 547.5,592 551,629.5 555,667 565,697 577.5,719.5 595,742 615,762 632.5,777" fill="none" stroke="#ff3c3c" stroke-width="1"/>
<polyline points="700,160 687.5,180 667.5,215 680,220 675,240 662.5,260 650,287.5 640,320 637.5,336 630,368.5 625,391 620,418.5 610,446 600,471 590,486 582.5,511 577.5,536 580,561 580,592 576,592 575,624.5 580,662 590,692 605,717 620,732 632.5,737 632.5,754.5 645,754.5 665,744.5 700,752" fill="none" stroke="#ff3c3c" stroke-width="1"/>
<polyline points="855,95 874,112.5 862.5,127.5 855,152.5 850,167.5 854,180 850,192.5 854,202.5 840,220 854,227.5 830,239 820,255 810,275 807.5,292.5 810,305 799,317.5 800,330 807.5,336" fill="none" stroke="#ff3c3c" stroke-width="1"/>
<polyline points="955,142.5 990,132.5 1030,132.5 1040,160 1020,180 1005,185 1012.5,165 995,175 970,165 955,142.5" fill="none" stroke="#ff3c3c" stroke-width="1"/>
<polyline points="812.5,317.5 820,315 829,317.5 825,322.5 815,321 812.5,317.5" fill="none" stroke="#ff3c3c" stroke-width="1"/>
<polyline points="652.5,373.5 667.5,361 675,368.5 660,386 655,406 645,418.5 641,401 649,383.5 652.5,373.5" fill="none" stroke="#ff3c3c" stroke-width="1"/>
<polyline points="797.5,341 810,348.5 840,352 870,353.5 867.5,361 845,363.5 850,370 880,376 890,388.5 907.5,392 935,390 960,398.5 985,403.5 1000,401 1012.5,411 1042.5,425" fill="none" stroke="#ff3c3c" stroke-width="1"/>
<polyline points="842.5,507 855,496 852.5,486 875,478.5 877.5,471 895,463.5 925,453.5 950,446 975,443.5 1002.5,442.5 1025,445 1040,450 1057.5,465 1080,472.5 1110,475 1100,457.5 1087.5,442.5 1065,435 1047.5,432.5 1040,422.5 1055,417.5" fill="none" stroke="#ff3c3c" stroke-width="1"/>
<polyline points="842.5,507 872.5,500 889,507 882.5,516 865,526 857.5,516 850,523.5 817.5,527 797.5,536 785,551 772.5,568.5 765,592" fill="none" stroke="#ff3c3c" stroke-width="1"/>
<polyline points="1020,556 1005,561 995,568.5 955,571 950,583.5 940,586 920,580 912.5,586 907.5,592" fill="none" stroke="#ff3c3c" stroke-width="1"/>
<polyline points="940,585 952.5,572.5 972.5,567.5 1002.5,565 1007.5,557.5 1022.5,562.5 1047.5,565 1050,552.5 1070,545 1102.5,537.5 1120,527.5 1137.5,515 1165,510 1190,495 1200,490" fill="none" stroke="#ff3c3c" stroke-width="1"/>
<polyline points="1025,650 1035,640 1065,632.5 1095,620 1115,602.5 1130,587.5 1165,575 1190,565 1215,553" fill="none" stroke="#ff3c3c" stroke-width="1"/>
<polyline points="116,341 135,351 140,361 147.5,371 170,381 180,390 180,408.5 185,418.5 205,421 220,428.5 232.5,441 260,456 280,468.5 290,481 295,501 296,523.5 290,536 285,556 275,571 267.5,592 260,599.5 245,614.5 235,634.5 230,649.5 217.5,659.5 217.5,669.5 210,682 197.5,697 187.5,702 177.5,712 170,729.5 165,742 155,762 142.5,782 137.5,817" fill="none" stroke="#ff3c3c" stroke-width="1"/>
<polyline points="120,580 135,577 147.5,580 152.5,599.5 137.5,617 135,642 125,667" fill="none" stroke="#ff3c3c" stroke-width="1"/>
<polyline points="900,592 895,617 897.5,654.5 892.5,674.5 870,682 865,692 845,697 840,709.5 822.5,732 820,754.5 800,767" fill="none" stroke="#ff3c3c" stroke-width="1"/>
<polyline points="1020,662 995,669.5 960,687 935,704.5 917.5,727 905,739.5 875,762 867.5,774.5 867.5,787" fill="none" stroke="#ff3c3c" stroke-width="1"/>
<polyline points="1020,699.5 990,712 982.5,724.5 957.5,739.5 947.5,742 942.5,757 927.5,767 927.5,782 910,799.5 900,809.5 872.5,827 850,827" fill="none" stroke="#ff3c3c" stroke-width="1"/>
<polyline points="940,760 947.5,742.5 985,725 990,710 1017.5,700 1060,695 1070,691 1085,700 1110,697.5 1125,710 1140,705 1157.5,687.5 1172.5,675 1175,660 1190,645 1202.5,632.5 1215,625" fill="none" stroke="#ff3c3c" stroke-width="1"/>
<polyline points="1010,790 1025,775 1055,765 1080,750 1115,740 1155,730 1165,720 1190,705 1215,692.5" fill="none" stroke="#ff3c3c" stroke-width="1"/>
<polyline points="1065,870 1075,857.5 1095,850 1100,832.5 1120,817.5 1140,802.5 1165,790 1175,780 1200,770 1205,757.5 1215,750" fill="none" stroke="#ff3c3c" stroke-width="1"/>
<polyline points="1170,870 1190,857.5 1200,850 1202.5,840 1215,827.5" fill="none" stroke="#ff3c3c" stroke-width="1"/>
<polyline points="960,810 970,795 1010,787.5 1007.5,800 995,815 1005,827.5 1002.5,831 987.5,822.5 990,810 977.5,820 967.5,817.5 960,810" fill="none" stroke="#ff3c3c" stroke-width="1"/>
</g>
<polyline points="-186.9,-101.8 -162.2,-104.8 -137.7,-107.7 -113.4,-110.6 -89.1,-113.5 -65,-116.4 -41,-119.2 -17.2,-122.1 6.6,-124.9 30.2,-127.7 53.7,-130.5 77.1,-133.3 100.4,-136.1 123.6,-138.9 146.7,-141.6 169.7,-144.3 192.7,-147.1 215.5,-149.8 238.3,-152.5 260.9,-155.2 283.6,-157.9 306.1,-160.6 328.6,-163.3 351,-165.9 373.3,-168.6 395.6,-171.3 417.8,-173.9 439.9,-176.5 462,-179.2 484,-181.8 506,-184.4 527.9,-187 549.7,-189.6 571.5,-192.2 593.2,-194.8 614.7,-197.4" fill="none" stroke="#b0aca8" stroke-width="1" stroke-dasharray="2 8"/>
<polyline points="-181.5,46.1 -157.6,38.9 -133.8,31.8 -110.2,24.7 -86.7,17.6 -63.3,10.6 -40.1,3.7 -16.9,-3.3 6.1,-10.2 29,-17.1 51.8,-23.9 74.4,-30.7 97,-37.5 119.5,-44.2 141.9,-50.9 164.2,-57.6 186.4,-64.3 208.5,-70.9 230.5,-77.5 252.5,-84.1 274.4,-90.7 296.2,-97.2 317.9,-103.7 339.6,-110.2 361.2,-116.7 382.7,-123.2 404.2,-129.6 425.6,-136.1 447,-142.5 468.3,-148.9 489.6,-155.2 510.7,-161.6 531.9,-167.9 552.9,-174.2 573.9,-180.5 594.8,-186.8 615.6,-193.1" fill="none" stroke="#b0aca8" stroke-width="1" stroke-dasharray="2 8"/>
<polyline points="-194.8,217.7 -172,206.3 -149.4,195 -126.9,183.7 -104.6,172.6 -82.4,161.4 -60.3,150.4 -38.3,139.4 -16.5,128.5 5.2,117.6 26.8,106.8 48.2,96 69.6,85.3 90.9,74.7 112.1,64.1 133.1,53.5 154.1,43 175,32.5 195.8,22.1 216.5,11.7 237.2,1.4 257.8,-8.9 278.3,-19.2 298.7,-29.4 319,-39.6 339.3,-49.8 359.6,-59.9 379.7,-70 399.8,-80.1 419.9,-90.1 439.9,-100.1 459.8,-110.1 479.7,-120.1 499.6,-130 519.3,-139.9 539.1,-149.8 558.7,-159.6 578.3,-169.5 597.8,-179.2 617.2,-188.9" fill="none" stroke="#b0aca8" stroke-width="1" stroke-dasharray="2 8"/>
<polyline points="-193.7,416.7 -172.7,401.2 -151.8,385.7 -131,370.3 -110.4,355.1 -89.9,339.9 -69.6,324.9 -49.4,309.9 -29.3,295.1 -9.4,280.3 10.5,265.6 30.2,251 49.8,236.5 69.3,222.1 88.7,207.7 108,193.4 127.3,179.2 146.4,165 165.4,150.9 184.4,136.9 203.2,123 222,109.1 240.7,95.2 259.3,81.4 277.9,67.7 296.4,54 314.8,40.4 333.2,26.8 351.5,13.2 369.7,-0.3 387.9,-13.7 406.1,-27.2 424.1,-40.5 442.2,-53.9 460.1,-67.2 478.1,-80.4 495.9,-93.7 513.8,-106.9 531.6,-120 549.3,-133.2 567,-146.2 584.6,-159.3 602.1,-172.3 619.6,-185.2" fill="none" stroke="#b0aca8" stroke-width="1" stroke-dasharray="2 8"/>
<polyline points="-186.4,667.8 -167.5,648 -148.7,628.2 -130.1,608.7 -111.6,589.3 -93.3,570.1 -75.1,550.9 -57.1,532 -39.2,513.2 -21.4,494.5 -3.7,475.9 13.9,457.5 31.3,439.1 48.6,420.9 65.9,402.8 83,384.9 100,367 116.9,349.2 133.8,331.5 150.5,313.9 167.1,296.5 183.7,279.1 200.2,261.7 216.6,244.5 232.9,227.4 249.2,210.3 265.4,193.3 281.5,176.4 297.5,159.5 313.5,142.7 329.4,126 345.3,109.3 361.1,92.7 376.8,76.2 392.5,59.7 408.2,43.3 423.8,26.9 439.3,10.5 454.8,-5.8 470.3,-22 485.7,-38.2 501.1,-54.4 516.4,-70.5 531.7,-86.5 547,-102.6 562.2,-118.5 577.4,-134.5 592.5,-150.3 607.5,-166.1 622.5,-181.9" fill="none" stroke="#b0aca8" stroke-width="1" stroke-dasharray="2 8"/>
<polyline points="-184.7,1037 -168,1012 -151.5,987.2 -135.1,962.6 -118.9,938.3 -102.9,914.2 -87,890.4 -71.2,866.7 -55.6,843.3 -40.1,820.1 -24.8,797.1 -9.5,774.2 5.5,751.6 20.5,729.1 35.4,706.8 50.1,684.7 64.7,662.8 79.3,641 93.7,619.4 108,597.9 122.2,576.5 136.3,555.4 150.4,534.3 164.3,513.4 178.2,492.6 191.9,472 205.6,451.4 219.3,431 232.8,410.7 246.3,390.5 259.6,370.4 273,350.4 286.2,330.5 299.4,310.7 312.6,291 325.6,271.4 338.6,251.9 351.6,232.4 364.5,213.1 377.4,193.8 390.2,174.6 402.9,155.4 415.7,136.4 428.3,117.3 441,98.4 453.5,79.5 466.1,60.7 478.6,41.9 491.1,23.2 503.5,4.5 515.9,-14.1 528.3,-32.6 540.6,-51.1 552.9,-69.6 565.2,-88 577.4,-106.4 589.6,-124.6 601.8,-142.9 613.9,-161 625.9,-179.1" fill="none" stroke="#b0aca8" stroke-width="1" stroke-dasharray="2 8"/>
<polyline points="-9.5,1273.6 3.2,1244.9 15.7,1216.5 28.1,1188.3 40.4,1160.5 52.5,1132.9 64.5,1105.6 76.4,1078.6 88.2,1051.9 99.9,1025.4 111.5,999.2 122.9,973.2 134.3,947.4 145.5,921.9 156.7,896.5 167.8,871.4 178.7,846.5 189.6,821.8 200.4,797.3 211.1,773 221.8,748.9 232.3,724.9 242.8,701.1 253.2,677.5 263.6,654 273.8,630.7 284,607.6 294.2,584.6 304.2,561.7 314.3,539 324.2,516.4 334.1,494 344,471.6 353.7,449.4 363.5,427.3 373.2,405.3 382.8,383.5 392.4,361.7 402,340 411.5,318.5 420.9,297 430.4,275.6 439.7,254.3 449.1,233.1 458.4,212 467.7,190.9 476.9,169.9 486.1,149 495.3,128.2 504.5,107.4 513.6,86.7 522.7,66.1 531.8,45.5 540.8,25 549.8,4.5 558.8,-15.9 567.8,-36.2 576.7,-56.5 585.7,-76.8 594.6,-97 603.4,-117.1 612.3,-137.1 621.1,-157.1 629.8,-177" fill="none" stroke="#b0aca8" stroke-width="1" stroke-dasharray="2 8"/>
<polyline points="276.1,1272.9 283.4,1243.4 290.6,1214.1 297.7,1185.2 304.8,1156.5 311.8,1128.2 318.8,1100.1 325.6,1072.2 332.5,1044.6 339.2,1017.3 345.9,990.2 352.6,963.3 359.1,936.7 365.7,910.3 372.1,884.1 378.6,858.1 384.9,832.3 391.3,806.7 397.6,781.3 403.8,756 410,731 416.1,706.1 422.2,681.4 428.3,656.8 434.3,632.4 440.3,608.2 446.3,584 452.2,560.1 458.1,536.3 464,512.6 469.8,489 475.6,465.6 481.3,442.2 487.1,419 492.8,395.9 498.5,373 504.1,350.1 509.7,327.3 515.3,304.6 520.9,282 526.5,259.5 532,237.1 537.6,214.8 543.1,192.5 548.5,170.3 554,148.2 559.4,126.2 564.9,104.2 570.3,82.3 575.7,60.5 581.1,38.7 586.4,17 591.8,-4.6 597.1,-26.2 602.4,-47.8 607.7,-69.3 613,-90.7 618.3,-112 623.6,-133.3 628.8,-154.5 634,-175.5" fill="none" stroke="#b0aca8" stroke-width="1" stroke-dasharray="2 8"/>
<polyline points="537,1283.2 539.1,1253.2 541.1,1223.4 543.2,1194 545.2,1164.8 547.2,1136 549.2,1107.4 551.2,1079 553.1,1050.9 555.1,1023.1 557,995.5 558.9,968.1 560.8,940.9 562.7,914 564.5,887.3 566.4,860.8 568.2,834.5 570,808.4 571.8,782.4 573.6,756.7 575.4,731.1 577.1,705.7 578.9,680.5 580.6,655.4 582.4,630.5 584.1,605.7 585.8,581.1 587.5,556.6 589.2,532.2 590.9,508 592.6,483.9 594.2,460 595.9,436.1 597.5,412.4 599.2,388.8 600.8,365.3 602.4,341.9 604.1,318.5 605.7,295.3 607.3,272.2 608.9,249.2 610.5,226.2 612.1,203.3 613.7,180.6 615.2,157.8 616.8,135.2 618.4,112.6 619.9,90.1 621.5,67.7 623.1,45.3 624.6,23 626.2,0.8 627.7,-21.4 629.2,-43.6 630.8,-65.6 632.3,-87.6 633.8,-109.6 635.4,-131.4 636.9,-153.2 638.4,-174.9" fill="none" stroke="#b0aca8" stroke-width="1" stroke-dasharray="2 8"/>
<polyline points="793.7,1278.8 790.6,1248.9 787.5,1219.2 784.4,1189.9 781.4,1160.8 778.4,1132 775.5,1103.5 772.5,1075.2 769.6,1047.2 766.8,1019.5 763.9,992 761.1,964.7 758.3,937.6 755.5,910.7 752.7,884.1 750,857.7 747.2,831.4 744.5,805.4 741.9,779.5 739.2,753.9 736.5,728.4 733.9,703 731.3,677.9 728.7,652.9 726.1,628 723.6,603.3 721,578.8 718.5,554.4 716,530.1 713.5,505.9 711,481.9 708.5,458 706,434.3 703.6,410.6 701.1,387 698.7,363.6 696.3,340.3 693.9,317 691.4,293.9 689.1,270.8 686.7,247.8 684.3,225 681.9,202.2 679.6,179.4 677.2,156.8 674.9,134.2 672.5,111.7 670.2,89.3 667.9,66.9 665.6,44.6 663.3,22.4 661,0.2 658.7,-22 656.4,-44 654.1,-66 651.8,-88 649.5,-109.8 647.3,-131.6 645,-153.4 642.8,-174.9" fill="none" stroke="#b0aca8" stroke-width="1" stroke-dasharray="2 8"/>
<polyline points="1062.5,1289.2 1054.1,1259.7 1045.8,1230.4 1037.6,1201.4 1029.5,1172.7 1021.4,1144.4 1013.4,1116.2 1005.5,1088.4 997.7,1060.8 990,1033.5 982.3,1006.4 974.7,979.5 967.1,952.9 959.6,926.5 952.2,900.3 944.9,874.3 937.5,848.6 930.3,823 923.1,797.6 916,772.5 908.9,747.4 901.8,722.6 894.8,697.9 887.9,673.5 881,649.1 874.1,624.9 867.3,600.9 860.6,577 853.8,553.3 847.1,529.6 840.5,506.2 833.8,482.8 827.3,459.6 820.7,436.5 814.2,413.5 807.7,390.6 801.2,367.8 794.8,345.1 788.4,322.6 782,300.1 775.7,277.7 769.4,255.4 763.1,233.2 756.8,211 750.5,189 744.3,167 738.1,145.1 731.9,123.3 725.7,101.5 719.6,79.8 713.5,58.1 707.3,36.6 701.2,15.1 695.2,-6.4 689.1,-27.8 683,-49.1 677,-70.4 671,-91.7 665,-112.8 659,-133.9 653.1,-154.9 647.1,-175.8" fill="none" stroke="#b0aca8" stroke-width="1" stroke-dasharray="2 8"/>
<polyline points="1353.3,1279.3 1339.5,1250.7 1325.9,1222.4 1312.4,1194.4 1299,1166.7 1285.8,1139.3 1272.8,1112.2 1259.8,1085.3 1247,1058.8 1234.3,1032.4 1221.7,1006.3 1209.3,980.5 1197,954.9 1184.7,929.6 1172.6,904.4 1160.6,879.5 1148.7,854.8 1136.9,830.2 1125.2,805.9 1113.5,781.8 1102,757.9 1090.5,734.1 1079.2,710.5 1067.9,687.1 1056.7,663.9 1045.5,640.8 1034.5,617.8 1023.5,595 1012.6,572.4 1001.8,549.9 991,527.5 980.3,505.3 969.6,483.2 959,461.2 948.5,439.3 938,417.6 927.6,395.9 917.2,374.4 906.8,353 896.6,331.6 886.3,310.4 876.1,289.3 866,268.2 855.9,247.2 845.8,226.4 835.8,205.6 825.8,184.8 815.9,164.2 805.9,143.6 796.1,123.1 786.2,102.7 776.4,82.3 766.6,61.9 756.8,41.7 747.1,21.5 737.4,1.3 727.7,-18.8 718,-38.8 708.4,-58.8 698.8,-78.7 689.2,-98.6 679.7,-118.4 670.2,-138.1 660.7,-157.8 651.3,-177.3" fill="none" stroke="#b0aca8" stroke-width="1" stroke-dasharray="2 8"/>
<polyline points="1489.1,983.8 1471.7,959.6 1454.5,935.6 1437.5,911.9 1420.6,888.3 1403.9,865 1387.4,841.9 1371,819.1 1354.7,796.4 1338.6,773.9 1322.6,751.6 1306.7,729.5 1291,707.5 1275.4,685.8 1259.9,664.2 1244.5,642.7 1229.3,621.4 1214.2,600.3 1199.1,579.3 1184.2,558.5 1169.3,537.8 1154.6,517.2 1140,496.8 1125.4,476.5 1110.9,456.3 1096.6,436.3 1082.3,416.3 1068,396.5 1053.9,376.8 1039.8,357.1 1025.8,337.6 1011.9,318.2 998,298.9 984.3,279.6 970.5,260.5 956.8,241.4 943.2,222.4 929.7,203.5 916.2,184.6 902.7,165.9 889.3,147.2 876,128.5 862.6,110 849.4,91.5 836.2,73 823,54.6 809.8,36.3 796.7,18 783.7,-0.2 770.6,-18.4 757.6,-36.5 744.7,-54.6 731.8,-72.6 718.9,-90.6 706,-108.5 693.2,-126.4 680.4,-144.2 667.7,-162 655.1,-179.6" fill="none" stroke="#b0aca8" stroke-width="1" stroke-dasharray="2 8"/>
<polyline points="1495.7,639.2 1476.1,620 1456.7,601 1437.5,582.1 1418.3,563.3 1399.4,544.7 1380.5,526.2 1361.9,507.9 1343.3,489.7 1324.9,471.6 1306.6,453.6 1288.4,435.8 1270.4,418.1 1252.4,400.5 1234.6,383 1216.9,365.6 1199.3,348.3 1181.7,331.1 1164.3,314 1147,297 1129.8,280.1 1112.6,263.3 1095.6,246.5 1078.6,229.9 1061.7,213.3 1044.9,196.8 1028.1,180.3 1011.4,164 994.8,147.7 978.3,131.4 961.8,115.2 945.4,99.1 929,83.1 912.7,67.1 896.5,51.1 880.3,35.2 864.1,19.4 848,3.6 832,-12.2 816,-27.9 800,-43.5 784.1,-59.2 768.2,-74.7 752.4,-90.3 736.6,-105.8 720.8,-121.2 705.1,-136.6 689.5,-152 673.9,-167.3 658.4,-182.5" fill="none" stroke="#b0aca8" stroke-width="1" stroke-dasharray="2 8"/>
<polyline points="1494.5,388 1472.9,373.2 1451.5,358.5 1430.3,343.8 1409.1,329.3 1388.2,314.8 1367.3,300.5 1346.6,286.2 1326.1,272 1305.6,258 1285.3,244 1265.1,230 1245,216.2 1225,202.4 1205.1,188.7 1185.3,175.1 1165.6,161.5 1146,148 1126.5,134.6 1107.1,121.2 1087.8,107.9 1068.6,94.7 1049.4,81.5 1030.3,68.3 1011.3,55.2 992.3,42.2 973.5,29.2 954.7,16.2 935.9,3.3 917.2,-9.6 898.6,-22.4 880,-35.2 861.5,-48 843,-60.7 824.6,-73.4 806.2,-86 787.9,-98.6 769.6,-111.2 751.4,-123.8 733.2,-136.3 715.1,-148.8 697.1,-161.2 679.1,-173.6 661.3,-185.9" fill="none" stroke="#b0aca8" stroke-width="1" stroke-dasharray="2 8"/>
<polyline points="1488.8,189.1 1465.6,178.5 1442.7,167.9 1419.8,157.5 1397.1,147 1374.5,136.7 1352.1,126.4 1329.8,116.1 1307.6,106 1285.6,95.8 1263.6,85.8 1241.8,75.7 1220.1,65.8 1198.4,55.8 1176.9,46 1155.5,36.1 1134.2,26.3 1112.9,16.6 1091.8,6.9 1070.7,-2.8 1049.7,-12.4 1028.8,-22 1008,-31.6 987.2,-41.1 966.5,-50.6 945.9,-60.1 925.3,-69.5 904.8,-78.9 884.4,-88.3 864,-97.7 843.7,-107 823.4,-116.3 803.2,-125.6 783,-134.8 762.9,-144.1 742.9,-153.3 722.9,-162.4 703,-171.6 683.2,-180.7 663.4,-189.7" fill="none" stroke="#b0aca8" stroke-width="1" stroke-dasharray="2 8"/>
<polyline points="1494,24.4 1469.7,18 1445.6,11.7 1421.6,5.4 1397.7,-0.9 1374,-7.2 1350.4,-13.4 1326.9,-19.6 1303.5,-25.7 1280.3,-31.8 1257.2,-37.9 1234.2,-44 1211.3,-50 1188.5,-56 1165.8,-62 1143.2,-67.9 1120.7,-73.9 1098.3,-79.8 1076,-85.7 1053.7,-91.5 1031.5,-97.4 1009.4,-103.2 987.4,-109 965.5,-114.7 943.6,-120.5 921.8,-126.3 900,-132 878.4,-137.7 856.7,-143.4 835.2,-149.1 813.6,-154.7 792.2,-160.4 770.8,-166 749.5,-171.6 728.2,-177.2 707,-182.8 685.9,-188.4 664.9,-193.9" fill="none" stroke="#b0aca8" stroke-width="1" stroke-dasharray="2 8"/>
<polyline points="1495,-127.9 1470.1,-130 1445.3,-132.1 1420.7,-134.2 1396.3,-136.3 1372,-138.3 1347.8,-140.4 1323.7,-142.4 1299.8,-144.5 1275.9,-146.5 1252.2,-148.5 1228.7,-150.5 1205.2,-152.5 1181.8,-154.5 1158.5,-156.4 1135.3,-158.4 1112.2,-160.4 1089.2,-162.3 1066.3,-164.3 1043.4,-166.2 1020.7,-168.1 998,-170.1 975.4,-172 952.8,-173.9 930.4,-175.8 907.9,-177.7 885.6,-179.6 863.3,-181.5 841.1,-183.4 818.9,-185.2 796.8,-187.1 774.8,-189 752.8,-190.9 730.9,-192.7 709,-194.6 687.3,-196.4 665.7,-198.2" fill="none" stroke="#b0aca8" stroke-width="1" stroke-dasharray="2 8"/>
<polyline points="-184.7,1037 -141.5,1064.8 -97.3,1091.1 -52.2,1115.8 -6.3,1138.9 40.4,1160.5 87.8,1180.4 135.8,1198.7 184.5,1215.3 233.7,1230.2 283.4,1243.4 333.5,1254.8 383.9,1264.5 434.7,1272.5 485.8,1278.7 537,1283.2 588.3,1285.9 639.7,1286.8 691.1,1285.9 742.5,1283.3 793.7,1278.8 844.7,1272.6 895.5,1264.7 946,1255 996.1,1243.6 1045.8,1230.4 1095,1215.5 1143.7,1199 1191.7,1180.7 1239.1,1160.8 1285.8,1139.3 1331.7,1116.2 1376.8,1091.5 1421,1065.3 1464.3,1037.5" fill="none" stroke="#b0aca8" stroke-width="1" stroke-dasharray="2 8"/>
<polyline points="-178.1,860.2 -141,887.9 -102.9,914.2 -63.9,939.2 -24.1,962.9 16.5,985.2 57.8,1006 99.9,1025.4 142.6,1043.4 185.9,1059.8 229.7,1074.8 274,1088.2 318.8,1100.1 363.9,1110.4 409.4,1119.2 455.1,1126.3 501.1,1131.9 547.2,1136 593.5,1138.4 639.8,1139.2 686.1,1138.4 732.3,1136 778.4,1132 824.4,1126.5 870.2,1119.3 915.6,1110.6 960.8,1100.3 1005.5,1088.4 1049.9,1075 1093.7,1060.1 1137,1043.6 1179.7,1025.7 1221.7,1006.3 1263.1,985.5 1303.7,963.3 1343.5,939.7 1382.5,914.7 1420.6,888.3 1457.8,860.7 1494,831.8" fill="none" stroke="#b0aca8" stroke-width="1" stroke-dasharray="2 8"/>
<polyline points="-186.4,667.8 -155.9,695.9 -124.5,722.9 -92.1,748.7 -58.8,773.5 -24.8,797.1 10.1,819.4 45.7,840.6 82.1,860.5 119.1,879.2 156.7,896.5 194.9,912.6 233.6,927.3 272.8,940.7 312.5,952.7 352.6,963.3 392.9,972.6 433.6,980.4 474.6,986.9 515.7,991.9 557,995.5 598.4,997.6 639.8,998.4 681.2,997.7 722.6,995.5 763.9,992 805,987 846,980.6 886.7,972.7 927.1,963.5 967.1,952.9 1006.8,940.9 1046,927.6 1084.8,912.9 1123,896.8 1160.6,879.5 1197.6,860.8 1234,840.9 1269.6,819.8 1304.5,797.4 1338.6,773.9 1371.8,749.2 1404.2,723.3 1435.7,696.3 1466.2,668.3 1495.7,639.2" fill="none" stroke="#b0aca8" stroke-width="1" stroke-dasharray="2 8"/>
<polyline points="-192.5,461.6 -169.1,490 -144.8,517.5 -119.5,544.2 -93.3,570.1 -66.3,594.9 -38.3,618.9 -9.6,641.8 19.9,663.8 50.1,684.7 81.1,704.6 112.7,723.4 144.9,741 177.8,757.6 211.1,773 245,787.2 279.4,800.3 314.2,812.2 349.4,822.8 384.9,832.3 420.8,840.5 456.9,847.4 493.2,853.2 529.7,857.6 566.4,860.8 603.1,862.7 639.8,863.3 676.6,862.7 713.3,860.8 750,857.7 786.5,853.2 822.8,847.6 858.9,840.6 894.8,832.4 930.3,823 965.5,812.4 1000.3,800.5 1034.7,787.5 1068.6,773.3 1102,757.9 1134.8,741.3 1167.1,723.7 1198.7,704.9 1229.7,685.1 1259.9,664.2 1289.4,642.2 1318.2,619.3 1346.1,595.4 1373.2,570.5 1399.4,544.7 1424.7,518 1449,490.5 1472.4,462.1 1494.8,432.9" fill="none" stroke="#b0aca8" stroke-width="1" stroke-dasharray="2 8"/>
<polyline points="-194.8,217.7 -179.8,246.3 -163.9,274.4 -147,301.9 -129.2,328.8 -110.4,355.1 -90.8,380.7 -70.2,405.6 -48.9,429.8 -26.7,453.2 -3.7,475.9 20.1,497.7 44.6,518.8 69.8,538.9 95.7,558.2 122.2,576.5 149.4,594 177.1,610.5 205.4,626 234.3,640.5 263.6,654 293.3,666.6 323.5,678 354,688.4 384.9,697.8 416.1,706.1 447.6,713.3 479.3,719.4 511.2,724.4 543.2,728.3 575.4,731.1 607.6,732.8 639.9,733.4 672.1,732.8 704.4,731.1 736.5,728.4 768.6,724.5 800.5,719.5 832.2,713.4 863.6,706.2 894.8,697.9 925.7,688.6 956.3,678.2 986.5,666.8 1016.2,654.3 1045.5,640.8 1074.4,626.2 1102.7,610.7 1130.5,594.3 1157.6,576.9 1184.2,558.5 1210.1,539.2 1235.3,519.1 1259.8,498.1 1283.6,476.3 1306.6,453.6 1328.8,430.2 1350.2,406 1370.7,381.1 1390.4,355.5 1409.1,329.3 1427,302.4 1443.9,274.9 1459.8,246.8 1474.8,218.2 1488.8,189.1" fill="none" stroke="#b0aca8" stroke-width="1" stroke-dasharray="2 8"/>
<polyline points="-167.8,-188.4 -166.9,-160.4 -165.1,-132.6 -162.2,-104.8 -158.4,-77.1 -153.7,-49.6 -148,-22.2 -141.4,4.9 -133.8,31.8 -125.3,58.4 -115.9,84.7 -105.6,110.7 -94.4,136.3 -82.4,161.4 -69.4,186.2 -55.6,210.5 -41,234.3 -25.6,257.6 -9.4,280.3 7.6,302.5 25.4,324 43.9,345 63.1,365.2 83,384.9 103.5,403.8 124.8,421.9 146.6,439.4 169,456.1 191.9,472 215.5,487 239.5,501.3 264,514.7 288.9,527.3 314.3,539 340,549.8 366.1,559.8 392.6,568.8 419.3,576.9 446.3,584 473.5,590.3 500.9,595.6 528.5,599.9 556.3,603.3 584.1,605.7 612,607.2 639.9,607.6 667.8,607.2 695.7,605.7 723.6,603.3 751.3,600 778.9,595.6 806.3,590.4 833.6,584.2 860.6,577 887.3,568.9 913.7,559.9 939.8,550 965.6,539.2 991,527.5 1015.9,515 1040.4,501.5 1064.4,487.3 1088,472.2 1110.9,456.3 1133.4,439.7 1155.2,422.2 1176.4,404.1 1197,385.2 1216.9,365.6 1236.1,345.3 1254.6,324.4 1272.4,302.8 1289.4,280.7 1305.6,258 1321.1,234.7 1335.7,210.9 1349.5,186.6 1362.5,161.9 1374.5,136.7 1385.8,111.1 1396.1,85.1 1405.5,58.8 1414,32.2 1421.6,5.4 1428.2,-21.8 1433.9,-49.1 1438.7,-76.6 1442.5,-104.3 1445.3,-132.1 1447.2,-160 1448.1,-187.9" fill="none" stroke="#b0aca8" stroke-width="1" stroke-dasharray="2 8"/>
<polyline points="-45.8,-190.2 -45,-166.5 -43.4,-142.8 -41,-119.2 -37.8,-95.7 -33.8,-72.4 -29,-49.1 -23.3,-26.1 -16.9,-3.3 -9.7,19.3 -1.7,41.6 7,63.7 16.5,85.4 26.8,106.8 37.8,127.8 49.5,148.4 61.9,168.6 75,188.4 88.7,207.7 103.2,226.5 118.2,244.8 133.9,262.6 150.3,279.8 167.1,296.5 184.6,312.5 202.6,327.9 221.1,342.7 240.1,356.9 259.6,370.4 279.6,383.2 300,395.3 320.8,406.7 342,417.4 363.5,427.3 385.3,436.5 407.5,444.9 430,452.6 452.7,459.5 475.6,465.6 498.7,470.9 522,475.3 545.4,479 568.9,481.9 592.6,483.9 616.2,485.2 639.9,485.6 663.7,485.2 687.3,484 711,481.9 734.5,479.1 757.9,475.4 781.2,470.9 804.3,465.7 827.3,459.6 850,452.7 872.4,445.1 894.6,436.7 916.4,427.5 938,417.6 959.2,406.9 980,395.5 1000.4,383.4 1020.3,370.6 1039.8,357.1 1058.9,343 1077.4,328.2 1095.4,312.8 1112.9,296.7 1129.8,280.1 1146.1,262.9 1161.8,245.1 1176.9,226.8 1191.3,208 1205.1,188.7 1218.2,169 1230.6,148.8 1242.4,128.2 1253.4,107.1 1263.6,85.8 1273.1,64 1281.9,42 1289.9,19.7 1297.1,-2.9 1303.5,-25.7 1309.2,-48.8 1314,-72 1318.1,-95.3 1321.3,-118.8 1323.7,-142.4 1325.3,-166.1 1326.1,-189.8" fill="none" stroke="#b0aca8" stroke-width="1" stroke-dasharray="2 8"/>
<polyline points="73.2,-192 73.8,-172.4 75.1,-152.8 77.1,-133.3 79.7,-113.9 83.1,-94.6 87.1,-75.4 91.7,-56.3 97,-37.5 103,-18.8 109.6,-0.3 116.8,17.9 124.7,35.8 133.1,53.5 142.2,70.9 151.9,87.9 162.1,104.6 173,121 184.4,136.9 196.3,152.5 208.8,167.6 221.7,182.3 235.2,196.5 249.2,210.3 263.6,223.6 278.5,236.3 293.8,248.6 309.5,260.3 325.6,271.4 342.1,282 359,292 376.2,301.4 393.7,310.3 411.5,318.5 429.5,326.1 447.9,333 466.4,339.4 485.2,345 504.1,350.1 523.2,354.4 542.5,358.2 561.8,361.2 581.3,363.6 600.8,365.3 620.4,366.3 640,366.6 659.6,366.3 679.2,365.3 698.7,363.6 718.1,361.2 737.5,358.2 756.8,354.5 775.9,350.2 794.8,345.1 813.6,339.5 832.1,333.1 850.5,326.2 868.5,318.6 886.3,310.4 903.8,301.6 921,292.2 937.9,282.2 954.4,271.6 970.5,260.5 986.3,248.8 1001.6,236.5 1016.5,223.8 1030.9,210.5 1044.9,196.8 1058.3,182.5 1071.3,167.9 1083.8,152.7 1095.7,137.2 1107.1,121.2 1118,104.9 1128.2,88.2 1137.9,71.2 1147,53.8 1155.5,36.1 1163.4,18.2 1170.6,-0 1177.2,-18.5 1183.2,-37.2 1188.5,-56 1193.2,-75.1 1197.2,-94.2 1200.5,-113.6 1203.2,-133 1205.2,-152.5 1206.5,-172 1207.1,-191.6" fill="none" stroke="#b0aca8" stroke-width="1" stroke-dasharray="2 8"/>
<polyline points="189.5,-193.7 190,-178.1 191.1,-162.6 192.7,-147.1 194.8,-131.6 197.4,-116.3 200.6,-101 204.3,-85.9 208.5,-70.9 213.2,-56.1 218.5,-41.4 224.2,-26.9 230.5,-12.7 237.2,1.4 244.4,15.2 252.1,28.7 260.3,42 268.9,55 277.9,67.7 287.4,80 297.3,92.1 307.6,103.7 318.3,115.1 329.4,126 340.9,136.5 352.7,146.7 364.9,156.4 377.4,165.7 390.2,174.6 403.3,183 416.7,190.9 430.3,198.4 444.3,205.4 458.4,212 472.8,218 487.3,223.5 502.1,228.6 517,233.1 532,237.1 547.2,240.6 562.5,243.5 577.9,245.9 593.4,247.8 608.9,249.2 624.4,250 640,250.3 655.6,250 671.2,249.2 686.7,247.8 702.1,246 717.5,243.6 732.8,240.6 748,237.2 763.1,233.2 778,228.7 792.7,223.6 807.3,218.1 821.7,212.1 835.8,205.6 849.7,198.6 863.4,191.1 876.8,183.1 889.9,174.7 902.7,165.9 915.2,156.6 927.4,146.8 939.2,136.7 950.7,126.2 961.8,115.2 972.5,103.9 982.8,92.3 992.7,80.3 1002.2,67.9 1011.3,55.2 1019.9,42.2 1028.1,29 1035.8,15.4 1043,1.6 1049.7,-12.4 1056,-26.7 1061.7,-41.2 1067,-55.8 1071.7,-70.7 1076,-85.7 1079.7,-100.8 1082.8,-116 1085.5,-131.4 1087.6,-146.8 1089.2,-162.3 1090.2,-177.9 1090.8,-193.4" fill="none" stroke="#b0aca8" stroke-width="1" stroke-dasharray="2 8"/>
<polyline points="303.8,-195.4 304.1,-183.8 304.9,-172.2 306.1,-160.6 307.7,-149.1 309.6,-137.6 312,-126.2 314.8,-114.9 317.9,-103.7 321.4,-92.7 325.4,-81.7 329.7,-70.9 334.3,-60.2 339.3,-49.8 344.7,-39.5 350.5,-29.3 356.6,-19.4 363,-9.7 369.7,-0.3 376.8,9 384.2,17.9 391.9,26.6 399.9,35.1 408.2,43.3 416.7,51.1 425.6,58.7 434.7,66 444,72.9 453.5,79.5 463.3,85.8 473.3,91.7 483.5,97.3 493.9,102.6 504.5,107.4 515.2,111.9 526.1,116.1 537.1,119.8 548.2,123.2 559.4,126.2 570.8,128.8 582.2,131 593.7,132.8 605.2,134.2 616.8,135.2 628.4,135.8 640.1,136 651.7,135.8 663.3,135.2 674.9,134.2 686.4,132.8 697.9,131 709.3,128.8 720.7,126.2 731.9,123.3 743,119.9 754.1,116.1 764.9,112 775.6,107.5 786.2,102.7 796.6,97.4 806.8,91.8 816.8,85.9 826.6,79.6 836.2,73 845.5,66.1 854.6,58.8 863.4,51.3 872,43.4 880.3,35.2 888.3,26.8 896,18.1 903.4,9.1 910.4,-0.1 917.2,-9.6 923.6,-19.3 929.7,-29.2 935.5,-39.3 940.9,-49.6 945.9,-60.1 950.6,-70.7 954.9,-81.5 958.8,-92.5 962.3,-103.6 965.5,-114.7 968.3,-126 970.6,-137.4 972.6,-148.9 974.2,-160.4 975.4,-172 976.2,-183.6 976.5,-195.2" fill="none" stroke="#b0aca8" stroke-width="1" stroke-dasharray="2 8"/>
<polyline points="416.2,-197.1 416.5,-189.3 417,-181.6 417.8,-173.9 418.8,-166.2 420.1,-158.6 421.7,-151 423.5,-143.5 425.6,-136.1 428,-128.7 430.6,-121.4 433.4,-114.2 436.6,-107.1 439.9,-100.1 443.5,-93.3 447.3,-86.5 451.4,-79.9 455.6,-73.5 460.1,-67.2 464.8,-61 469.8,-55.1 474.9,-49.3 480.2,-43.6 485.7,-38.2 491.4,-33 497.3,-27.9 503.3,-23.1 509.6,-18.5 515.9,-14.1 522.4,-9.9 529.1,-5.9 535.9,-2.2 542.8,1.3 549.8,4.5 557,7.5 564.2,10.3 571.5,12.8 578.9,15 586.4,17 594,18.7 601.6,20.2 609.2,21.4 616.9,22.3 624.6,23 632.3,23.4 640.1,23.5 647.8,23.4 655.6,23 663.3,22.4 671,21.4 678.6,20.2 686.2,18.8 693.8,17 701.2,15.1 708.6,12.8 716,10.3 723.2,7.6 730.4,4.6 737.4,1.3 744.3,-2.1 751.1,-5.9 757.7,-9.8 764.3,-14 770.6,-18.4 776.8,-23 782.9,-27.8 788.8,-32.9 794.5,-38.1 800,-43.5 805.3,-49.2 810.4,-55 815.4,-60.9 820.1,-67.1 824.6,-73.4 828.9,-79.8 832.9,-86.4 836.8,-93.1 840.3,-100 843.7,-107 846.8,-114.1 849.7,-121.3 852.3,-128.6 854.6,-135.9 856.7,-143.4 858.6,-150.9 860.1,-158.5 861.5,-166.1 862.5,-173.8 863.3,-181.5 863.8,-189.2 864.1,-196.9" fill="none" stroke="#b0aca8" stroke-width="1" stroke-dasharray="2 8"/>
<polyline points="527.1,-198.7 527.2,-194.8 527.5,-190.9 527.9,-187 528.4,-183.2 529.1,-179.3 529.9,-175.5 530.8,-171.7 531.9,-167.9 533.1,-164.2 534.4,-160.5 535.8,-156.9 537.4,-153.3 539.1,-149.8 540.9,-146.3 542.8,-142.9 544.9,-139.6 547,-136.3 549.3,-133.2 551.7,-130.1 554.1,-127 556.7,-124.1 559.4,-121.3 562.2,-118.5 565.1,-115.9 568,-113.3 571.1,-110.9 574.2,-108.6 577.4,-106.4 580.7,-104.2 584.1,-102.2 587.5,-100.4 591,-98.6 594.6,-97 598.2,-95.5 601.8,-94.1 605.5,-92.8 609.3,-91.7 613,-90.7 616.8,-89.8 620.7,-89.1 624.5,-88.5 628.4,-88 632.3,-87.6 636.2,-87.4 640.1,-87.4 644,-87.4 647.9,-87.6 651.8,-88 655.7,-88.4 659.6,-89 663.4,-89.8 667.2,-90.7 671,-91.7 674.7,-92.8 678.4,-94 682.1,-95.4 685.7,-96.9 689.2,-98.6 692.7,-100.3 696.1,-102.2 699.5,-104.2 702.8,-106.3 706,-108.5 709.1,-110.9 712.2,-113.3 715.2,-115.8 718,-118.5 720.8,-121.2 723.5,-124.1 726.1,-127 728.6,-130 731,-133.1 733.2,-136.3 735.4,-139.5 737.5,-142.9 739.4,-146.3 741.2,-149.7 742.9,-153.3 744.5,-156.8 745.9,-160.5 747.2,-164.1 748.4,-167.9 749.5,-171.6 750.4,-175.4 751.2,-179.2 751.9,-183.1 752.4,-187 752.8,-190.9 753.1,-194.8 753.2,-198.7" fill="none" stroke="#b0aca8" stroke-width="1" stroke-dasharray="2 8"/>
<polygon points="1200.5,178 1208.75,156 1216.5,178" fill="#e6148c"/>
<rect x="1200.5" y="178.0" width="15.5" height="22.2" fill="#a50000" stroke="#000" stroke-width="1"/>
<rect x="1200.5" y="200.2" width="15.5" height="22.2" fill="#c00000" stroke="#000" stroke-width="1"/>
<rect x="1200.5" y="222.4" width="15.5" height="22.2" fill="#e11400" stroke="#000" stroke-width="1"/>
<rect x="1200.5" y="244.6" width="15.5" height="22.2" fill="#ff3200" stroke="#000" stroke-width="1"/>
<rect x="1200.5" y="266.8" width="15.5" height="22.2" fill="#ff6000" stroke="#000" stroke-width="1"/>
<rect x="1200.5" y="289.0" width="15.5" height="22.2" fill="#ffc03c" stroke="#000" stroke-width="1"/>
<rect x="1200.5" y="311.2" width="15.5" height="22.2" fill="#ffe878" stroke="#000" stroke-width="1"/>
<rect x="1200.5" y="333.4" width="15.5" height="22.2" fill="#fffaaa" stroke="#000" stroke-width="1"/>
<rect x="1200.5" y="355.6" width="15.5" height="22.2" fill="#c8ffbe" stroke="#000" stroke-width="1"/>
<rect x="1200.5" y="377.8" width="15.5" height="22.2" fill="#78f573" stroke="#000" stroke-width="1"/>
<rect x="1200.5" y="400.0" width="15.5" height="22.2" fill="#37d23c" stroke="#000" stroke-width="1"/>
<rect x="1200.5" y="422.2" width="15.5" height="22.2" fill="#0fa00f" stroke="#000" stroke-width="1"/>
<rect x="1200.5" y="444.4" width="15.5" height="22.2" fill="#b4f0fa" stroke="#000" stroke-width="1"/>
<rect x="1200.5" y="466.6" width="15.5" height="22.2" fill="#96d2fa" stroke="#000" stroke-width="1"/>
<rect x="1200.5" y="488.8" width="15.5" height="22.2" fill="#50a5f5" stroke="#000" stroke-width="1"/>
<rect x="1200.5" y="511.0" width="15.5" height="22.2" fill="#2882f0" stroke="#000" stroke-width="1"/>
<rect x="1200.5" y="533.2" width="15.5" height="22.2" fill="#1464d2" stroke="#000" stroke-width="1"/>
<rect x="1200.5" y="555.4" width="15.5" height="22.2" fill="#8270eb" stroke="#000" stroke-width="1"/>
<rect x="1200.5" y="577.6" width="15.5" height="22.2" fill="#6e5adc" stroke="#000" stroke-width="1"/>
<rect x="1200.5" y="599.8" width="15.5" height="22.2" fill="#483cc8" stroke="#000" stroke-width="1"/>
<rect x="1200.5" y="622.0" width="15.5" height="22.2" fill="#2d1ea5" stroke="#000" stroke-width="1"/>
<rect x="1200.5" y="644.2" width="15.5" height="22.2" fill="#1e0096" stroke="#000" stroke-width="1"/>
<polygon points="1200.5,666.4 1208.75,688 1216.5,666.4" fill="#a000c8"/>
<line x1="1200.5" y1="178" x2="1200.5" y2="666.4" stroke="#000" stroke-width="1.3"/>
<g clip-path="url(#cbclip)"><g clip-path="url(#dom)">
<polygon points="530,40 530,125 525,155 516,185 512.5,220 511,250 505,275 505,295 507.5,320 510,336 511,386 510,436 507.5,476 506,506 502.5,516 497.5,521 495,551 494,571 490,561 487.5,551 480,553.5 477.5,566 478,592 477.5,617 480,634.5 507.5,657 515,679.5 522.5,704.5 530,727 540,739.5 555,744.5 570,762 580,779.5 595,784.5 607.5,794.5 597.5,802 620,809.5 640,817 660,814.5 677.5,817 673,827 685,832.5 700,835 720,830 740,835 760,839 780,837.5 795,835 805,825 795,812.5 800,807.5 810,802.5 822.5,805 832.5,810 850,815 870,805 880,794 882.5,777.5 886,765 905,757.5 922.5,750 930,741 940,724.5 950,707 962.5,709.5 982.5,697 1005,684.5 1012.5,681 1025,686 1037.5,680 1050,674 1095,660 1110,650 1130,640 1152.5,627.5 1175,620 1200,597.5 1215,587.5 1250,570 1250,40" fill="none" stroke="#ff3c3c" stroke-width="3" stroke-linejoin="round"/>
<polygon points="579,40 579,120 580,145 577.5,175 570,197.5 566,220 560,250 555,275 560,287.5 552.5,297.5 552.5,320 555,336 552.5,386 551,431 545,446 542.5,476 539,506 532.5,526 532.5,561 536,592 540,629.5 542.5,667 550,692 560,712 577.5,734.5 595,752 615,772 630,784.5 645,792 684,802 697.5,805 720,802.5 735,797.5 745,805 755,802.5 757.5,792.5 770,787.5 780,782.5 800,780 825,777.5 835,767.5 860,765 870,752.5 875,744.5 887.5,727 902.5,702 915,689.5 930,667 927.5,657 945,642 955,632.5 972.5,622.5 990,630 1015,622.5 1035,612.5 1042.5,597.5 1050,586 1095,577.5 1120,570 1140,560 1155,545 1165,535 1180,520 1200,510 1215,502.5 1250,490 1250,40" fill="none" stroke="#ff3c3c" stroke-width="3" stroke-linejoin="round"/>
<polygon points="677,40 677.5,117.5 670,142.5 655,175 642.5,205 632.5,235 625,265 621,285 617.5,310 613,336 605,386 595,426 585,456 575,486 565,516 561,541 561,566 563,592 562.5,629.5 566,667 575,697 587.5,722 605,744.5 620,764.5 632.5,772 672.5,782 690,782.5 707.5,787.5 722.5,782.5 735,775 745,777.5 757.5,772.5 756,760 765,755 775,765 770,752 775,742 785,744.5 789,757 800,749.5 795,727 796,704.5 800,687 810,662 807.5,649.5 820,634.5 822.5,622 842.5,617 847.5,597 832.5,592 836,571 845,556 860,551 875,556 882.5,563.5 900,558.5 912.5,551 920,541 937.5,533.5 962.5,532 977,530 977.5,507.5 975,480 990,477.5 1002.5,475 1017.5,475 1020,466 1030,470 1035,466 1042.5,475 1055,472.5 1080,477.5 1095,485 1110,491 1150,490 1160,485 1172.5,475 1172.5,465 1165,457.5 1170,442.5 1165,430 1155,427.5 1147.5,432.5 1140,442.5 1135,425 1140,415 1152.5,410 1155,400 1157,380 1155,367 1160,355 1161,337 1152,345 1150,332 1137,325 1130,311 1117,315 1100,325 1085,327 1062,327 1057,340 1050,332 1060,320 1065,300 1055,295 1065,285 1052,280 1050,265 1087,260 1100,252 1107,235 1112,210 1113,190 1117,160 1115,150 1135,127 1155,120 1170,100 1170,40" fill="none" stroke="#ff3c3c" stroke-width="3" stroke-linejoin="round"/>
<polygon points="605,945 605,933 620,925.5 630,924 670,919 685,919 697.5,910 710,915 720,910 730,917.5 745,915 757.5,910 780,907.5 800,900 815,895 827.5,882.5 835,885 850,874 850,855 846,849 852.5,847.5 860,855 877.5,850 892.5,847.5 887.5,835 902.5,827.5 920,822.5 935,810 947.5,792 944,779.5 950,772 965,772 980,777 995,767 1007.5,762 1022.5,765 1037.5,756 1079,742.5 1095,737.5 1115,727.5 1140,722.5 1155,715 1170,697.5 1185,692.5 1200,680 1215,665 1250,640 1250,945" fill="none" stroke="#ff3c3c" stroke-width="3" stroke-linejoin="round"/>
<polygon points="1250,700 1215,712.5 1205,715 1195,725 1185,740 1175,747.5 1160,755 1145,762.5 1132.5,766 1125,780 1115,792.5 1100,805 1087.5,815 1045,827.5 1032.5,835 1015,844 1000,849 994,860 982.5,870 972.5,876 960,890 940,896 922.5,902.5 900,945 1250,945" fill="none" stroke="#ff3c3c" stroke-width="3" stroke-linejoin="round"/>
<polygon points="1250,765 1215,782.5 1205,795 1190,805 1175,812.5 1162.5,822.5 1155,837.5 1152.5,847.5 1144,859 1147.5,864 1142.5,871 1131,879 1120,900 1250,900" fill="none" stroke="#ff3c3c" stroke-width="3" stroke-linejoin="round"/>
<polyline points="940,585 952.5,572.5 972.5,567.5 1002.5,565 1007.5,557.5 1022.5,562.5 1047.5,565 1050,552.5 1070,545 1102.5,537.5 1120,527.5 1137.5,515 1165,510 1190,495 1200,490" fill="none" stroke="#ff3c3c" stroke-width="1"/>
<polyline points="1025,650 1035,640 1065,632.5 1095,620 1115,602.5 1130,587.5 1165,575 1190,565 1215,553" fill="none" stroke="#ff3c3c" stroke-width="1"/>
<polyline points="940,760 947.5,742.5 985,725 990,710 1017.5,700 1060,695 1070,691 1085,700 1110,697.5 1125,710 1140,705 1157.5,687.5 1172.5,675 1175,660 1190,645 1202.5,632.5 1215,625" fill="none" stroke="#ff3c3c" stroke-width="1"/>
<polyline points="1010,790 1025,775 1055,765 1080,750 1115,740 1155,730 1165,720 1190,705 1215,692.5" fill="none" stroke="#ff3c3c" stroke-width="1"/>
<polyline points="1065,870 1075,857.5 1095,850 1100,832.5 1120,817.5 1140,802.5 1165,790 1175,780 1200,770 1205,757.5 1215,750" fill="none" stroke="#ff3c3c" stroke-width="1"/>
<polyline points="1170,870 1190,857.5 1200,850 1202.5,840 1215,827.5" fill="none" stroke="#ff3c3c" stroke-width="1"/>
</g></g>
<polyline points="808.75,112.5 812.5,127.5 827.5,140 842.5,155 835,180 832.5,197.5 815,215 800,222.5 785,227.5 760,223.75 742.5,232.5 725,255 715,270 705,295 685,325 692.5,360 720,370 722.5,400 710,425" fill="none" stroke="#000" stroke-width="1" stroke-linejoin="round"/>
<polyline points="815,215 825,225 830,240 836,260 830,272.5 840,280 850,297.5 855,320 875,327.5 885,325 890,345 912.5,360 935,395 940,425 980,417.5 985,370 1000,362.5 1025,372.5 1040,395 1070,415 1085,400 1135,385 1177.5,370 1200,355" fill="none" stroke="#000" stroke-width="1" stroke-linejoin="round"/>
<polyline points="142.5,336 147.5,353.5 157.5,361 175,358.5 185,366 197.5,368.5 207.5,363.5" fill="none" stroke="#000" stroke-width="1" stroke-linejoin="round"/>
<polyline points="147.5,353.5 132.5,368.5 130,381 116,382" fill="none" stroke="#000" stroke-width="1" stroke-linejoin="round"/>
<polyline points="185,366 190,378.5 200,386 180,396 162.5,396 164,408.5 155,416 157.5,436 167.5,446 182.5,431 200,428.5 215,436 220,448.5 232.5,461 250,466 257.5,453.5 270,441 275,418.5 280,411 310,418.5 312.5,411" fill="none" stroke="#000" stroke-width="1" stroke-linejoin="round"/>
<polyline points="200,386 210,411 220,418.5 220,436" fill="none" stroke="#000" stroke-width="1" stroke-linejoin="round"/>
<polyline points="232.5,423.5 252.5,408.5 270,411 275,418.5" fill="none" stroke="#000" stroke-width="1" stroke-linejoin="round"/>
<polyline points="280,411 282.5,398.5 295,381 297.5,363.5 320,373.5 342.5,368.5 375,373.5" fill="none" stroke="#000" stroke-width="1" stroke-linejoin="round"/>
<polyline points="117.5,483.5 132.5,476 142.5,483.5 142.5,498.5 150,511 151,528.5 157.5,536 120,543.5" fill="none" stroke="#000" stroke-width="1" stroke-linejoin="round"/>
<polyline points="142.5,483.5 155,478.5 172.5,486 185,478.5" fill="none" stroke="#000" stroke-width="1" stroke-linejoin="round"/>
<polyline points="157.5,536 175,526 195,516 215,501 220,516 222.5,533.5 230,553.5 235,576 240,592" fill="none" stroke="#000" stroke-width="1" stroke-linejoin="round"/>
<polyline points="157.5,536 160,548.5 172.5,553.5 182.5,563.5 190,581 195,591" fill="none" stroke="#000" stroke-width="1" stroke-linejoin="round"/>
<polyline points="230,486 250,478.5 245,466" fill="none" stroke="#000" stroke-width="1" stroke-linejoin="round"/>
<polyline points="295,486 315,461 325,463.5" fill="none" stroke="#000" stroke-width="1" stroke-linejoin="round"/>
<polyline points="295,486 310,498.5 330,508.5 350,511 375,521" fill="none" stroke="#000" stroke-width="1" stroke-linejoin="round"/>
<polyline points="277.5,511 290,526 310,518.5 315,501" fill="none" stroke="#000" stroke-width="1" stroke-linejoin="round"/>
<polyline points="85,336 92.5,356 85,366 67.5,368.5 62.5,371" fill="none" stroke="#000" stroke-width="1" stroke-linejoin="round"/>
<polyline points="92.5,368.5 105,386 102.5,401 90,413.5 77.5,418.5 80,436 75,448.5 87.5,466 102.5,471 116,478.5" fill="none" stroke="#000" stroke-width="1" stroke-linejoin="round"/>
<polyline points="62.5,481 72.5,491 72.5,511 87.5,526 92.5,536 97.5,556 110,558.5 111,543.5 118.75,543.5" fill="none" stroke="#000" stroke-width="1" stroke-linejoin="round"/>
<polyline points="68.75,556 76,543.5 92.5,536" fill="none" stroke="#000" stroke-width="1" stroke-linejoin="round"/>
<polyline points="437.5,336 467.5,346 475,356 490,351 505,361 510,381 527.5,386 540,396 557.5,398.5 570,408.5 580,413.5 595,411 607.5,403.5 620,411 640,421 647.5,436 662.5,443.5 642.5,458.5 620,463.5 605,458.5 582.5,458.5 562.5,456 555,468.5 552.5,481 540,491 530,506 520,513.5 505,513.5 497.5,508.5 480,511 477.5,501 472.5,506 465,521 470,531 477.5,536 477.5,548.5 462.5,556 455,576" fill="none" stroke="#000" stroke-width="1" stroke-linejoin="round"/>
<polyline points="380,383.5 395,396 402.5,418.5 400,448.5 412.5,471 422.5,481 450,468.5 467.5,458.5 490,468.5 505,491" fill="none" stroke="#000" stroke-width="1" stroke-linejoin="round"/>
<polyline points="412.5,471 415,491 397.5,498.5 390,521 400,541 422.5,551 427.5,566 445,571" fill="none" stroke="#000" stroke-width="1" stroke-linejoin="round"/>
<polyline points="640,336 645,356 665,368.5 655,386 657.5,406 645,421" fill="none" stroke="#000" stroke-width="1" stroke-linejoin="round"/>
<polyline points="642.5,458.5 650,481 675,478.5 685,491 700,498.5" fill="none" stroke="#000" stroke-width="1" stroke-linejoin="round"/>
<polyline points="532.5,526 540,541 560,543.5 580,548.5 590,561 605,566 630,568.5" fill="none" stroke="#000" stroke-width="1" stroke-linejoin="round"/>
<polyline points="685,491 695,511 690,521 700,528.5" fill="none" stroke="#000" stroke-width="1" stroke-linejoin="round"/>
<polyline points="700,361 717.5,368.5 725,383.5 720,398.5 707.5,418.5 720,436 715,438.5 727.5,453.5" fill="none" stroke="#000" stroke-width="1" stroke-linejoin="round"/>
<polyline points="870,336 880,366 880,386 870,406 875,418.5 887.5,426 890,441 895,456 890,466 875,461 862.5,458.5 865,476 855,491 850,506 855,511 840,501 835,508.5 817.5,511 815,531 822.5,543.5 817.5,561 812.5,592" fill="none" stroke="#000" stroke-width="1" stroke-linejoin="round"/>
<polyline points="737.5,438.5 760,438.5 770,453.5 775,473.5 795,471 817.5,461 822.5,453.5 840,451 855,456 862.5,458.5" fill="none" stroke="#000" stroke-width="1" stroke-linejoin="round"/>
<polyline points="1020,461 1000,461 987.5,466 975,478.5 960,491 965,503.5 977.5,508.5" fill="none" stroke="#000" stroke-width="1" stroke-linejoin="round"/>
<polyline points="902.5,586 915,583.5 925,576 935,586 950,578.5 957.5,586" fill="none" stroke="#000" stroke-width="1" stroke-linejoin="round"/>
<polyline points="739,592 747.5,612 755,632 747.5,654.5 737.5,669.5 725,689.5" fill="none" stroke="#000" stroke-width="1" stroke-linejoin="round"/>
<polyline points="807.5,592 805,604.5 822.5,617 845,619.5 860,627 875,612 885,622 900,627 920,629.5 935,642" fill="none" stroke="#000" stroke-width="1" stroke-linejoin="round"/>
<polyline points="822.5,617 795,629.5 787.5,657 770,672 767.5,702" fill="none" stroke="#000" stroke-width="1" stroke-linejoin="round"/>
<polyline points="860,627 857.5,647" fill="none" stroke="#000" stroke-width="1" stroke-linejoin="round"/>
<polyline points="1080,477.5 1065,500 1057.5,522.5 1070,540 1050,562.5 1045,585 1025,600 1012.5,615 1020,635 1012.5,650" fill="none" stroke="#000" stroke-width="1" stroke-linejoin="round"/>
<polyline points="1040,445 1020,460 987.5,465 972.5,475 960,495 972.5,517.5" fill="none" stroke="#000" stroke-width="1" stroke-linejoin="round"/>
<polyline points="1070,597.5 1092.5,597.5 1112.5,580 1120,572.5 1110,567.5 1115,562.5 1090,565 1085,580 1070,597.5" fill="none" stroke="#000" stroke-width="1" stroke-linejoin="round"/>
<polyline points="210,91 195,105 177.5,117.5 170,130 160,135 156,157.5 142.5,162.5 105,160 85,157.5" fill="none" stroke="#000" stroke-width="1" stroke-linejoin="round"/>
<polyline points="210,91 225,107.5" fill="none" stroke="#000" stroke-width="1" stroke-linejoin="round"/>
<polyline points="132.5,205 142.5,227.5 125,240 117.5,245" fill="none" stroke="#000" stroke-width="1" stroke-linejoin="round"/>
<polyline points="162.5,227.5 172.5,240 167.5,255 180,270 195,280 202.5,292.5 220,297.5 235,310 240,325 252.5,330" fill="none" stroke="#000" stroke-width="1" stroke-linejoin="round"/>
<polyline points="187.5,200 195,187.5 204,190" fill="none" stroke="#000" stroke-width="1" stroke-linejoin="round"/>
<polyline points="172.5,240 190,220 185,205" fill="none" stroke="#000" stroke-width="1" stroke-linejoin="round"/>
<polyline points="280,247.5 275,255 280,272.5 267.5,280 265,295 277.5,300 290,297.5 290,305 277.5,315 272.5,325" fill="none" stroke="#000" stroke-width="1" stroke-linejoin="round"/>
<polyline points="280,247.5 292.5,255 300,262.5 317.5,265 325,270" fill="none" stroke="#000" stroke-width="1" stroke-linejoin="round"/>
<polyline points="300,200 310,220 312.5,230 322.5,225 330,232.5 360,230 380,240" fill="none" stroke="#000" stroke-width="1" stroke-linejoin="round"/>
<polyline points="330,232.5 320,245 325,267.5" fill="none" stroke="#000" stroke-width="1" stroke-linejoin="round"/>
<polyline points="62.5,255 85,260 92.5,267.5 105,265 107.5,250 116,245" fill="none" stroke="#000" stroke-width="1" stroke-linejoin="round"/>
<polyline points="62.5,207.5 87.5,215 92.5,227.5 100,232.5 107.5,250" fill="none" stroke="#000" stroke-width="1" stroke-linejoin="round"/>
<polyline points="62.5,300 80,312.5 92.5,305 95,327.5 105,300 116,292.5" fill="none" stroke="#000" stroke-width="1" stroke-linejoin="round"/>
<polyline points="380,240 442.5,267.5 462.5,257.5 485,245 487.5,235" fill="none" stroke="#000" stroke-width="1" stroke-linejoin="round"/>
<polyline points="485,245 487.5,260 480,275 452.5,287.5 437.5,300 422.5,305 400,312.5 397.5,330" fill="none" stroke="#000" stroke-width="1" stroke-linejoin="round"/>
<polyline points="437.5,300 440,315 430,330" fill="none" stroke="#000" stroke-width="1" stroke-linejoin="round"/>
<polyline points="600,230 605,245 625,255 630,275 635,287.5 647.5,302.5" fill="none" stroke="#000" stroke-width="1" stroke-linejoin="round"/>
<polyline points="700,292.5 680,287.5 662.5,282.5 652.5,295 647.5,302.5" fill="none" stroke="#000" stroke-width="1" stroke-linejoin="round"/>
<polyline points="625,297.5 632.5,317.5 630,336" fill="none" stroke="#000" stroke-width="1" stroke-linejoin="round"/>
<polyline points="1171,160 1175,172.5 1195,180 1199,192.5 1185,217.5 1186,232.5 1172.5,240 1170,255 1182.5,270 1187.5,295 1192.5,300 1202.5,300 1206,310 1212.5,325 1215,332.5 1200,345 1195,357.5" fill="none" stroke="#000" stroke-width="1" stroke-linejoin="round"/>
<polyline points="120,547 160,542 192.5,587 200,594.5 220,604.5 250,602 255,617 290,632 297.5,627 300,602 315,572 330,567 375,574.5 420,572 447.5,574.5 455,602 475,609.5 480,629.5 500,622 540,612 545,627 550,639.5 570,692 577.5,707 587.5,699.5 597.5,709.5 612.5,712 630,707 645,717 650,732 660,742 672.5,744.5 685,737 690,749.5 700,753 707.5,742 730,737 732.5,727 747.5,717 767.5,702 802.5,702 810,714.5 835,712 860,704.5 866,692 857.5,679.5 860,657 862.5,649.5 890,651 917.5,652 925,667 945,673 960,664.5 975,654.5 995,651 1012.5,651 1017.5,656 1032.5,661 1060,652.5 1075,642.5 1095,625 1092.5,620 1100,602.5 1110,592.5 1130,592.5 1137.5,585 1162.5,582.5 1172.5,555 1165,535 1160,495 1152.5,490 1145,475 1157.5,457.5 1170,445 1197.5,432.5 1217,432.5" fill="none" stroke="#000" stroke-width="1.7" stroke-linejoin="round"/>
<polyline points="62,137.5 72.5,145 84,157.5 90,165 85,172.5 85,190 81,180 70,175 62.5,177.5" fill="none" stroke="#000" stroke-width="2.8" stroke-linejoin="round" stroke-linecap="round"/>
<polyline points="110,171 121,172.5 126,180 126,192.5 122.5,205 111,211 102.5,205 94,200 102.5,187.5 106,175 110,171" fill="none" stroke="#000" stroke-width="2.8" stroke-linejoin="round" stroke-linecap="round"/>
<polyline points="162.5,187.5 155,200 147.5,215 145,227.5 152.5,231 160,225 162.5,210 172.5,202.5 174,190 170,187.5 162.5,187.5" fill="none" stroke="#000" stroke-width="2.8" stroke-linejoin="round" stroke-linecap="round"/>
<polyline points="289,91 294,117.5 296,150 290,165 275,172.5 260,167.5 250,155 240,130 234,101 231,130 227.5,142.5 210,155 204,165 207.5,190 212.5,196 220,190 217.5,175 220,162.5 230,172.5 232.5,185 240,197.5 245,205 252.5,187.5 257.5,182.5 277.5,185 285,180 290,190 294,202.5 300,195 307.5,180 320,167.5 327.5,152.5 335,162.5 340,172.5 335,185 325,180 319,190 320,200 330,207.5 337.5,202.5 347.5,196 380,196.5 400,197.5 405,205 395,210 400,215 415,219 430,217.5 440,220 435,230 440,234 445,225 455,224 457.5,205 450,190 455,185 460,202.5 475,215 487.5,230 500,247.5 509,261 516,252.5 512.5,240 505,230 510,215 512.5,192.5 527.5,180 540,162.5 550,147.5 557.5,147.5 559,155 565,167.5 555,190 552.5,220 546,252.5 552.5,262.5 540,285 525,300 510,302.5 500,296" fill="none" stroke="#000" stroke-width="2.8" stroke-linejoin="round" stroke-linecap="round"/>
<polyline points="362,172 366,165 374,165 378,172 374,179 366,179 362,172" fill="none" stroke="#000" stroke-width="2.8" stroke-linejoin="round" stroke-linecap="round"/>
<polyline points="552.5,297.5 560,260 562.5,230 567.5,215 560,197.5 567.5,187.5 577.5,182.5 580,165" fill="none" stroke="#000" stroke-width="2.8" stroke-linejoin="round" stroke-linecap="round"/>
<polyline points="562.5,255 575,252.5 585,262.5 587.5,277.5 582.5,287.5 592.5,292.5" fill="none" stroke="#000" stroke-width="2.8" stroke-linejoin="round" stroke-linecap="round"/>
<polyline points="577.5,162.5 580,180 577.5,202.5 587.5,207.5 600,212.5 592.5,200 585,190 595,182.5 597.5,175 610,185 620,195 630,190 635,205 630,230 642.5,247.5 637.5,232.5 636,215 632.5,197.5 620,180 617.5,155 630,151 655,147.5 660,152.5 657.5,130 650,125 665,112.5 680,100 692.5,91" fill="none" stroke="#000" stroke-width="2.8" stroke-linejoin="round" stroke-linecap="round"/>
<polyline points="470,91 457.5,100 447.5,110 425,125 417.5,135 424,155 437.5,172.5 446,175 442.5,155 447.5,135 462.5,117.5 485,102.5 510,91" fill="none" stroke="#000" stroke-width="2.8" stroke-linejoin="round" stroke-linecap="round"/>
<polyline points="795,91 790,115 780,145 785,137.5 800,125 807.5,107.5 800,100 810,97.5 825,107.5 830,95 845,91" fill="none" stroke="#000" stroke-width="2.8" stroke-linejoin="round" stroke-linecap="round"/>
<polyline points="982.5,507.5 987.5,525 994,545 996,562.5 987.5,585 975,600 970,612.5 955,630 942.5,640 940,635 950,625 965,607.5 972.5,585 980,560 977.5,537.5 977.5,507.5 982.5,507.5" fill="none" stroke="#000" stroke-width="2.8" stroke-linejoin="round" stroke-linecap="round"/>
<polyline points="200,741 220,736 255,741 240,752 235,764.5 241,784.5 225,789.5 220,799.5 205,809.5 192.5,807 167.5,791 172.5,772 177.5,757 192.5,744.5 200,741" fill="none" stroke="#000" stroke-width="2.8" stroke-linejoin="round" stroke-linecap="round"/>
<polyline points="477.5,807 455,817 449,832 457.5,850.5 464,824 480,818 497.5,813 515,818 525,817 535,819 545,815.5 556,817 550,822 537.5,824 527.5,822 515,820.5 500,809 487.5,810.5 477.5,807" fill="none" stroke="#000" stroke-width="2.8" stroke-linejoin="round" stroke-linecap="round"/>
<polyline points="62.5,634.5 77.5,639.5 95,638 120,659.5 125,682 119,716 99,707 92.5,692 67.5,691 62.5,704.5" fill="none" stroke="#000" stroke-width="2.8" stroke-linejoin="round" stroke-linecap="round"/>
<polyline points="62.5,784.5 67.5,784.5 72.5,822 62.5,823" fill="none" stroke="#000" stroke-width="2.8" stroke-linejoin="round" stroke-linecap="round"/>
<rect x="227.5" y="274" width="39" height="22" fill="#fff"/>
<text x="230" y="292.5" font-family="Liberation Serif" font-size="21.5" fill="#ff3c3c" stroke="#fff" stroke-width="0.25" textLength="35" lengthAdjust="spacing">&#8722;24</text>
<rect x="531.5" y="300" width="39" height="22" fill="#fff"/>
<text x="534" y="318.5" font-family="Liberation Serif" font-size="21.5" fill="#ff3c3c" stroke="#fff" stroke-width="0.25" textLength="35" lengthAdjust="spacing">&#8722;28</text>
<rect x="215" y="381" width="39" height="22" fill="#fff"/>
<text x="217.5" y="399.5" font-family="Liberation Serif" font-size="21.5" fill="#ff3c3c" stroke="#fff" stroke-width="0.25" textLength="35" lengthAdjust="spacing">&#8722;20</text>
<rect x="349.5" y="451" width="39" height="22" fill="#fff"/>
<text x="352" y="469.5" font-family="Liberation Serif" font-size="21.5" fill="#ff3c3c" stroke="#fff" stroke-width="0.25" textLength="35" lengthAdjust="spacing">&#8722;20</text>
<rect x="900.5" y="239" width="39" height="22" fill="#fff"/>
<text x="903" y="257.5" font-family="Liberation Serif" font-size="21.5" fill="#ff3c3c" stroke="#fff" stroke-width="0.25" textLength="35" lengthAdjust="spacing">&#8722;32</text>
<rect x="991.5" y="268" width="39" height="22" fill="#fff"/>
<text x="994" y="286.5" font-family="Liberation Serif" font-size="21.5" fill="#ff3c3c" stroke="#fff" stroke-width="0.25" textLength="35" lengthAdjust="spacing">&#8722;32</text>
<rect x="1048.5" y="258" width="39" height="22" fill="#fff"/>
<text x="1051" y="276.5" font-family="Liberation Serif" font-size="21.5" fill="#ff3c3c" stroke="#fff" stroke-width="0.25" textLength="35" lengthAdjust="spacing">&#8722;32</text>
<rect x="1137.5" y="370" width="39" height="22" fill="#fff"/>
<text x="1140" y="388.5" font-family="Liberation Serif" font-size="21.5" fill="#ff3c3c" stroke="#fff" stroke-width="0.25" textLength="35" lengthAdjust="spacing">&#8722;32</text>
<rect x="731" y="403" width="39" height="22" fill="#fff"/>
<text x="733.5" y="421.5" font-family="Liberation Serif" font-size="21.5" fill="#ff3c3c" stroke="#fff" stroke-width="0.25" textLength="35" lengthAdjust="spacing">&#8722;36</text>
<rect x="852.5" y="440" width="39" height="22" fill="#fff"/>
<text x="855" y="458.5" font-family="Liberation Serif" font-size="21.5" fill="#ff3c3c" stroke="#fff" stroke-width="0.25" textLength="35" lengthAdjust="spacing">&#8722;36</text>
<rect x="705.5" y="492" width="39" height="22" fill="#fff"/>
<text x="708" y="510.5" font-family="Liberation Serif" font-size="21.5" fill="#ff3c3c" stroke="#fff" stroke-width="0.25" textLength="35" lengthAdjust="spacing">&#8722;36</text>
<rect x="967.5" y="487.5" width="39" height="22" fill="#fff"/>
<text x="970" y="506" font-family="Liberation Serif" font-size="21.5" fill="#ff3c3c" stroke="#fff" stroke-width="0.25" textLength="35" lengthAdjust="spacing">&#8722;32</text>
<rect x="1111" y="483" width="39" height="22" fill="#fff"/>
<text x="1113.5" y="501.5" font-family="Liberation Serif" font-size="21.5" fill="#ff3c3c" stroke="#fff" stroke-width="0.25" textLength="35" lengthAdjust="spacing">&#8722;32</text>
<rect x="596" y="577" width="39" height="22" fill="#fff"/>
<text x="598.5" y="595.5" font-family="Liberation Serif" font-size="21.5" fill="#ff3c3c" stroke="#fff" stroke-width="0.25" textLength="35" lengthAdjust="spacing">&#8722;36</text>
<rect x="1054.5" y="576" width="39" height="22" fill="#fff"/>
<text x="1057" y="594.5" font-family="Liberation Serif" font-size="21.5" fill="#ff3c3c" stroke="#fff" stroke-width="0.25" textLength="35" lengthAdjust="spacing">&#8722;28</text>
<rect x="263.5" y="636" width="39" height="22" fill="#fff"/>
<text x="266" y="654.5" font-family="Liberation Serif" font-size="21.5" fill="#ff3c3c" stroke="#fff" stroke-width="0.25" textLength="35" lengthAdjust="spacing">&#8722;20</text>
<rect x="481.5" y="634" width="39" height="22" fill="#fff"/>
<text x="484" y="652.5" font-family="Liberation Serif" font-size="21.5" fill="#ff3c3c" stroke="#fff" stroke-width="0.25" textLength="35" lengthAdjust="spacing">&#8722;24</text>
<rect x="1055" y="654" width="39" height="22" fill="#fff"/>
<text x="1057.5" y="672.5" font-family="Liberation Serif" font-size="21.5" fill="#ff3c3c" stroke="#fff" stroke-width="0.25" textLength="35" lengthAdjust="spacing">&#8722;24</text>
<rect x="782.5" y="662.5" width="39" height="22" fill="#fff"/>
<text x="785" y="681" font-family="Liberation Serif" font-size="21.5" fill="#ff3c3c" stroke="#fff" stroke-width="0.25" textLength="35" lengthAdjust="spacing">&#8722;32</text>
<rect x="713" y="690" width="39" height="22" fill="#fff"/>
<text x="715.5" y="708.5" font-family="Liberation Serif" font-size="21.5" fill="#ff3c3c" stroke="#fff" stroke-width="0.25" textLength="35" lengthAdjust="spacing">&#8722;36</text>
<rect x="877" y="704.5" width="39" height="22" fill="#fff"/>
<text x="879.5" y="723" font-family="Liberation Serif" font-size="21.5" fill="#ff3c3c" stroke="#fff" stroke-width="0.25" textLength="35" lengthAdjust="spacing">&#8722;28</text>
<rect x="202.5" y="737" width="39" height="22" fill="#fff"/>
<text x="205" y="755.5" font-family="Liberation Serif" font-size="21.5" fill="#ff3c3c" stroke="#fff" stroke-width="0.25" textLength="35" lengthAdjust="spacing">&#8722;20</text>
<rect x="312" y="766" width="39" height="22" fill="#fff"/>
<text x="314.5" y="784.5" font-family="Liberation Serif" font-size="21.5" fill="#ff3c3c" stroke="#fff" stroke-width="0.25" textLength="35" lengthAdjust="spacing">&#8722;20</text>
<rect x="1038.5" y="740" width="39" height="22" fill="#fff"/>
<text x="1041" y="758.5" font-family="Liberation Serif" font-size="21.5" fill="#ff3c3c" stroke="#fff" stroke-width="0.25" textLength="35" lengthAdjust="spacing">&#8722;20</text>
<rect x="633" y="766" width="39" height="22" fill="#fff"/>
<text x="635.5" y="784.5" font-family="Liberation Serif" font-size="21.5" fill="#ff3c3c" stroke="#fff" stroke-width="0.25" textLength="35" lengthAdjust="spacing">&#8722;32</text>
<rect x="644" y="786.5" width="39" height="22" fill="#fff"/>
<text x="646.5" y="805" font-family="Liberation Serif" font-size="21.5" fill="#ff3c3c" stroke="#fff" stroke-width="0.25" textLength="35" lengthAdjust="spacing">&#8722;28</text>
<rect x="853" y="794" width="39" height="22" fill="#fff"/>
<text x="855.5" y="812.5" font-family="Liberation Serif" font-size="21.5" fill="#ff3c3c" stroke="#fff" stroke-width="0.25" textLength="35" lengthAdjust="spacing">&#8722;24</text>
<rect x="1049" y="812" width="39" height="22" fill="#fff"/>
<text x="1051.5" y="830.5" font-family="Liberation Serif" font-size="21.5" fill="#ff3c3c" stroke="#fff" stroke-width="0.25" textLength="35" lengthAdjust="spacing">&#8722;16</text>
<rect x="307" y="830.5" width="39" height="22" fill="#fff"/>
<text x="309.5" y="849" font-family="Liberation Serif" font-size="21.5" fill="#ff3c3c" stroke="#fff" stroke-width="0.25" textLength="35" lengthAdjust="spacing">&#8722;20</text>
<rect x="645" y="831.5" width="39" height="22" fill="#fff"/>
<text x="647.5" y="850" font-family="Liberation Serif" font-size="21.5" fill="#ff3c3c" stroke="#fff" stroke-width="0.25" textLength="35" lengthAdjust="spacing">&#8722;24</text>
<rect x="512.5" y="826" width="39" height="22" fill="#fff"/>
<text x="515" y="844.5" font-family="Liberation Serif" font-size="21.5" fill="#ff3c3c" stroke="#fff" stroke-width="0.25" textLength="35" lengthAdjust="spacing">&#8722;20</text>
<rect x="850" y="855" width="39" height="22" fill="#fff"/>
<text x="852.5" y="873.5" font-family="Liberation Serif" font-size="21.5" fill="#ff3c3c" stroke="#fff" stroke-width="0.25" textLength="35" lengthAdjust="spacing">&#8722;20</text>
<rect x="200.5" y="890.5" width="39" height="22" fill="#fff"/>
<text x="203" y="909" font-family="Liberation Serif" font-size="21.5" fill="#ff3c3c" stroke="#fff" stroke-width="0.25" textLength="35" lengthAdjust="spacing">&#8722;20</text>
<rect x="630" y="915" width="39" height="22" fill="#fff"/>
<text x="632.5" y="933.5" font-family="Liberation Serif" font-size="21.5" fill="#ff3c3c" stroke="#fff" stroke-width="0.25" textLength="35" lengthAdjust="spacing">&#8722;20</text>
<circle cx="481" cy="295" r="3.1" fill="#000" shape-rendering="geometricPrecision"/>
<text x="472.5" y="315" font-family="Liberation Sans" font-weight="bold" font-size="14" fill="#000" textLength="67.5" lengthAdjust="spacingAndGlyphs">&#1057;&#1072;&#1083;&#1077;&#1093;&#1072;&#1088;&#1076;</text>
<circle cx="674.5" cy="252" r="3.1" fill="#000" shape-rendering="geometricPrecision"/>
<text x="680" y="255.5" font-family="Liberation Sans" font-weight="bold" font-size="14" fill="#000" textLength="68" lengthAdjust="spacingAndGlyphs">&#1053;&#1086;&#1088;&#1080;&#1083;&#1100;&#1089;&#1082;</text>
<circle cx="1094" cy="231" r="3.1" fill="#000" shape-rendering="geometricPrecision"/>
<text x="1101" y="232.5" font-family="Liberation Sans" font-weight="bold" font-size="14" fill="#000" textLength="46.5" lengthAdjust="spacingAndGlyphs">&#1071;&#1082;&#1091;&#1090;&#1089;&#1082;</text>
<circle cx="802.5" cy="351" r="3.1" fill="#000" shape-rendering="geometricPrecision"/>
<text x="808.5" y="352" font-family="Liberation Sans" font-weight="bold" font-size="14" fill="#000" textLength="31.5" lengthAdjust="spacingAndGlyphs">&#1058;&#1091;&#1088;&#1072;</text>
<circle cx="469.5" cy="432" r="3.1" fill="#000" shape-rendering="geometricPrecision"/>
<text x="475" y="427" font-family="Liberation Sans" font-weight="bold" font-size="14" fill="#000" textLength="124" lengthAdjust="spacingAndGlyphs">&#1061;&#1072;&#1085;&#1090;&#1099;&#8722;&#1052;&#1072;&#1085;&#1089;&#1080;&#1081;&#1089;&#1082;</text>
<circle cx="338" cy="494" r="3.1" fill="#000" shape-rendering="geometricPrecision"/>
<text x="315" y="488.5" font-family="Liberation Sans" font-weight="bold" font-size="14" fill="#000" textLength="95.5" lengthAdjust="spacingAndGlyphs">&#1045;&#1082;&#1072;&#1090;&#1077;&#1088;&#1080;&#1085;&#1073;&#1091;&#1088;&#1075;</text>
<circle cx="402" cy="510" r="3.1" fill="#000" shape-rendering="geometricPrecision"/>
<text x="408" y="511" font-family="Liberation Sans" font-weight="bold" font-size="14" fill="#000" textLength="46.5" lengthAdjust="spacingAndGlyphs">&#1058;&#1102;&#1084;&#1077;&#1085;&#1100;</text>
<circle cx="332.5" cy="537" r="3.1" fill="#000" shape-rendering="geometricPrecision"/>
<text x="255" y="542" font-family="Liberation Sans" font-weight="bold" font-size="14" fill="#000" textLength="74" lengthAdjust="spacingAndGlyphs">&#1063;&#1077;&#1083;&#1103;&#1073;&#1080;&#1085;&#1089;&#1082;</text>
<circle cx="386.5" cy="549.5" r="3.1" fill="#000" shape-rendering="geometricPrecision"/>
<text x="334" y="562" font-family="Liberation Sans" font-weight="bold" font-size="14" fill="#000" textLength="47" lengthAdjust="spacingAndGlyphs">&#1050;&#1091;&#1088;&#1075;&#1072;&#1085;</text>
<circle cx="492.5" cy="590.5" r="3.1" fill="#000" shape-rendering="geometricPrecision"/>
<text x="452" y="593" font-family="Liberation Sans" font-weight="bold" font-size="14" fill="#000" textLength="34" lengthAdjust="spacingAndGlyphs">&#1054;&#1084;&#1089;&#1082;</text>
<circle cx="625" cy="603.5" r="3.1" fill="#000" shape-rendering="geometricPrecision"/>
<text x="529" y="599" font-family="Liberation Sans" font-weight="bold" font-size="14" fill="#000" textLength="91" lengthAdjust="spacingAndGlyphs">&#1053;&#1086;&#1074;&#1086;&#1089;&#1080;&#1073;&#1080;&#1088;&#1089;&#1082;</text>
<circle cx="652.5" cy="567" r="3.1" fill="#000" shape-rendering="geometricPrecision"/>
<text x="659" y="565.5" font-family="Liberation Sans" font-weight="bold" font-size="14" fill="#000" textLength="41" lengthAdjust="spacingAndGlyphs">&#1058;&#1086;&#1084;&#1089;&#1082;</text>
<circle cx="668.5" cy="595.5" r="3.1" fill="#000" shape-rendering="geometricPrecision"/>
<text x="674.5" y="598" font-family="Liberation Sans" font-weight="bold" font-size="14" fill="#000" textLength="68" lengthAdjust="spacingAndGlyphs">&#1050;&#1077;&#1084;&#1077;&#1088;&#1086;&#1074;&#1086;</text>
<circle cx="636.5" cy="646" r="3.1" fill="#000" shape-rendering="geometricPrecision"/>
<text x="571" y="650.5" font-family="Liberation Sans" font-weight="bold" font-size="14" fill="#000" textLength="59" lengthAdjust="spacingAndGlyphs">&#1041;&#1072;&#1088;&#1085;&#1072;&#1091;&#1083;</text>
<circle cx="761" cy="569.5" r="3.1" fill="#000" shape-rendering="geometricPrecision"/>
<text x="767" y="571" font-family="Liberation Sans" font-weight="bold" font-size="14" fill="#000" textLength="85.5" lengthAdjust="spacingAndGlyphs">&#1050;&#1088;&#1072;&#1089;&#1085;&#1086;&#1103;&#1088;&#1089;&#1082;</text>
<circle cx="747.5" cy="629.5" r="3.1" fill="#000" shape-rendering="geometricPrecision"/>
<text x="753.5" y="631" font-family="Liberation Sans" font-weight="bold" font-size="14" fill="#000" textLength="50.5" lengthAdjust="spacingAndGlyphs">&#1040;&#1073;&#1072;&#1082;&#1072;&#1085;</text>
<circle cx="670" cy="682" r="3.1" fill="#000" shape-rendering="geometricPrecision"/>
<text x="676" y="683" font-family="Liberation Sans" font-weight="bold" font-size="14" fill="#000" textLength="113" lengthAdjust="spacingAndGlyphs">&#1043;&#1086;&#1088;&#1085;&#1086;&#8722;&#1040;&#1083;&#1090;&#1072;&#1081;&#1089;&#1082;</text>
<circle cx="800.5" cy="673.5" r="3.1" fill="#000" shape-rendering="geometricPrecision"/>
<text x="807" y="674.5" font-family="Liberation Sans" font-weight="bold" font-size="14" fill="#000" textLength="40.5" lengthAdjust="spacingAndGlyphs">&#1050;&#1099;&#1079;&#1099;&#1083;</text>
<circle cx="942" cy="618" r="3.1" fill="#000" shape-rendering="geometricPrecision"/>
<text x="948.5" y="624" font-family="Liberation Sans" font-weight="bold" font-size="14" fill="#000" textLength="56.5" lengthAdjust="spacingAndGlyphs">&#1048;&#1088;&#1082;&#1091;&#1090;&#1089;&#1082;</text>
<circle cx="1072" cy="563" r="3.1" fill="#000" shape-rendering="geometricPrecision"/>
<text x="1077.5" y="565" font-family="Liberation Sans" font-weight="bold" font-size="14" fill="#000" textLength="34" lengthAdjust="spacingAndGlyphs">&#1063;&#1080;&#1090;&#1072;</text>
</g>
<rect x="62" y="91" width="1155" height="843" fill="none" stroke="#000" stroke-width="2"/>
<text x="1220.5" y="184.0" font-family="Liberation Serif" font-size="15.5" fill="#000" textLength="17" lengthAdjust="spacingAndGlyphs">28</text>
<text x="1220.5" y="206.2" font-family="Liberation Serif" font-size="15.5" fill="#000" textLength="17" lengthAdjust="spacingAndGlyphs">24</text>
<text x="1220.5" y="228.4" font-family="Liberation Serif" font-size="15.5" fill="#000" textLength="17" lengthAdjust="spacingAndGlyphs">20</text>
<text x="1220.5" y="250.6" font-family="Liberation Serif" font-size="15.5" fill="#000" textLength="17" lengthAdjust="spacingAndGlyphs">16</text>
<text x="1220.5" y="272.8" font-family="Liberation Serif" font-size="15.5" fill="#000" textLength="17" lengthAdjust="spacingAndGlyphs">12</text>
<text x="1220.5" y="295.0" font-family="Liberation Serif" font-size="15.5" fill="#000" textLength="8" lengthAdjust="spacingAndGlyphs">8</text>
<text x="1220.5" y="317.2" font-family="Liberation Serif" font-size="15.5" fill="#000" textLength="8" lengthAdjust="spacingAndGlyphs">4</text>
<text x="1220.5" y="339.4" font-family="Liberation Serif" font-size="15.5" fill="#000" textLength="8" lengthAdjust="spacingAndGlyphs">0</text>
<line x1="1221" y1="356.1" x2="1231" y2="356.1" stroke="#000" stroke-width="1.2"/>
<text x="1233" y="361.6" font-family="Liberation Serif" font-size="15.5" fill="#000" textLength="8" lengthAdjust="spacingAndGlyphs">4</text>
<line x1="1221" y1="378.3" x2="1231" y2="378.3" stroke="#000" stroke-width="1.2"/>
<text x="1233" y="383.8" font-family="Liberation Serif" font-size="15.5" fill="#000" textLength="8" lengthAdjust="spacingAndGlyphs">8</text>
<line x1="1221" y1="400.5" x2="1231" y2="400.5" stroke="#000" stroke-width="1.2"/>
<text x="1233" y="406.0" font-family="Liberation Serif" font-size="15.5" fill="#000" textLength="17" lengthAdjust="spacingAndGlyphs">12</text>
<line x1="1221" y1="422.7" x2="1231" y2="422.7" stroke="#000" stroke-width="1.2"/>
<text x="1233" y="428.2" font-family="Liberation Serif" font-size="15.5" fill="#000" textLength="17" lengthAdjust="spacingAndGlyphs">16</text>
<line x1="1221" y1="444.9" x2="1231" y2="444.9" stroke="#000" stroke-width="1.2"/>
<text x="1233" y="450.4" font-family="Liberation Serif" font-size="15.5" fill="#000" textLength="17" lengthAdjust="spacingAndGlyphs">20</text>
<line x1="1221" y1="467.1" x2="1231" y2="467.1" stroke="#000" stroke-width="1.2"/>
<text x="1233" y="472.6" font-family="Liberation Serif" font-size="15.5" fill="#000" textLength="17" lengthAdjust="spacingAndGlyphs">24</text>
<line x1="1221" y1="489.3" x2="1231" y2="489.3" stroke="#000" stroke-width="1.2"/>
<text x="1233" y="494.8" font-family="Liberation Serif" font-size="15.5" fill="#000" textLength="17" lengthAdjust="spacingAndGlyphs">28</text>
<line x1="1221" y1="511.5" x2="1231" y2="511.5" stroke="#000" stroke-width="1.2"/>
<text x="1233" y="517.0" font-family="Liberation Serif" font-size="15.5" fill="#000" textLength="17" lengthAdjust="spacingAndGlyphs">32</text>
<line x1="1221" y1="533.7" x2="1231" y2="533.7" stroke="#000" stroke-width="1.2"/>
<text x="1233" y="539.2" font-family="Liberation Serif" font-size="15.5" fill="#000" textLength="17" lengthAdjust="spacingAndGlyphs">36</text>
<line x1="1221" y1="555.9" x2="1231" y2="555.9" stroke="#000" stroke-width="1.2"/>
<text x="1233" y="561.4" font-family="Liberation Serif" font-size="15.5" fill="#000" textLength="17" lengthAdjust="spacingAndGlyphs">40</text>
<line x1="1221" y1="578.1" x2="1231" y2="578.1" stroke="#000" stroke-width="1.2"/>
<text x="1233" y="583.6" font-family="Liberation Serif" font-size="15.5" fill="#000" textLength="17" lengthAdjust="spacingAndGlyphs">44</text>
<line x1="1221" y1="600.3" x2="1231" y2="600.3" stroke="#000" stroke-width="1.2"/>
<text x="1233" y="605.8" font-family="Liberation Serif" font-size="15.5" fill="#000" textLength="17" lengthAdjust="spacingAndGlyphs">48</text>
<line x1="1221" y1="622.5" x2="1231" y2="622.5" stroke="#000" stroke-width="1.2"/>
<text x="1233" y="628.0" font-family="Liberation Serif" font-size="15.5" fill="#000" textLength="17" lengthAdjust="spacingAndGlyphs">52</text>
<line x1="1221" y1="644.7" x2="1231" y2="644.7" stroke="#000" stroke-width="1.2"/>
<text x="1233" y="650.2" font-family="Liberation Serif" font-size="15.5" fill="#000" textLength="17" lengthAdjust="spacingAndGlyphs">56</text>
<line x1="1221" y1="666.9" x2="1231" y2="666.9" stroke="#000" stroke-width="1.2"/>
<text x="1233" y="672.4" font-family="Liberation Serif" font-size="15.5" fill="#000" textLength="17" lengthAdjust="spacingAndGlyphs">60</text>
<text x="136.5" y="69.5" font-family="Liberation Sans" font-size="43" font-weight="normal" fill="#000" stroke="#fff" stroke-width="1.0" textLength="101.5" lengthAdjust="spacingAndGlyphs">00:00</text>
<text x="262" y="69.5" font-family="Liberation Sans" font-size="43" font-weight="normal" fill="#000" stroke="#fff" stroke-width="1.0" textLength="43" lengthAdjust="spacingAndGlyphs">05</text>
<text x="310.5" y="69.5" font-family="Liberation Sans" font-size="43" font-weight="normal" fill="#000" stroke="#fff" stroke-width="1.0" textLength="56.5" lengthAdjust="spacingAndGlyphs">&#1086;&#1082;&#1090;</text>
<text x="391" y="69.5" font-family="Liberation Sans" font-size="43" font-weight="normal" fill="#000" stroke="#fff" stroke-width="1.0" textLength="90" lengthAdjust="spacingAndGlyphs">2025</text>
<text x="505" y="69.5" font-family="Liberation Serif" font-size="44" font-weight="normal" fill="#000" stroke="#fff" stroke-width="0.7" textLength="156" lengthAdjust="spacingAndGlyphs">(UTC+0)</text>
<text x="667" y="69.5" font-family="Liberation Sans" font-size="43" font-weight="normal" fill="#000" stroke="#fff" stroke-width="1.0" textLength="7" lengthAdjust="spacingAndGlyphs">:</text>
<text x="696.5" y="69.5" font-family="Liberation Sans" font-size="43" font-weight="normal" fill="#000" stroke="#fff" stroke-width="1.0" textLength="228" lengthAdjust="spacingAndGlyphs">&#1058;&#1077;&#1084;&#1087;&#1077;&#1088;&#1072;&#1090;&#1091;&#1088;&#1072;</text>
<text x="946.5" y="69.5" font-family="Liberation Sans" font-size="43" font-weight="normal" fill="#000" stroke="#fff" stroke-width="1.0" textLength="41.5" lengthAdjust="spacingAndGlyphs">&#1085;&#1072;</text>
<text x="1010" y="69.5" font-family="Liberation Sans" font-size="43" font-weight="normal" fill="#000" stroke="#fff" stroke-width="1.0" textLength="134.5" lengthAdjust="spacingAndGlyphs">500&#1075;&#1055;&#1072;</text>
<text x="65" y="970.8" font-family="Liberation Sans" font-size="25.5" font-weight="normal" fill="#000" stroke="#fff" stroke-width="0.35" textLength="107" lengthAdjust="spacingAndGlyphs">&#1055;&#1088;&#1086;&#1075;&#1085;&#1086;&#1079;</text>
<text x="189" y="970.8" font-family="Liberation Sans" font-size="25.5" font-weight="normal" fill="#000" stroke="#fff" stroke-width="0.35" textLength="31.5" lengthAdjust="spacingAndGlyphs">&#1085;&#1072;</text>
<text x="238" y="970.8" font-family="Liberation Sans" font-size="25.5" font-weight="normal" fill="#000" stroke="#fff" stroke-width="0.35" textLength="53" lengthAdjust="spacingAndGlyphs">78&#1095;.</text>
<text x="310.5" y="970.8" font-family="Liberation Sans" font-size="25.5" font-weight="normal" fill="#000" stroke="#fff" stroke-width="0.35" textLength="28" lengthAdjust="spacingAndGlyphs">&#1086;&#1090;</text>
<text x="359.5" y="970.8" font-family="Liberation Sans" font-size="25.5" font-weight="normal" fill="#000" stroke="#fff" stroke-width="0.35" textLength="73" lengthAdjust="spacingAndGlyphs">18:00</text>
<text x="450" y="970.8" font-family="Liberation Sans" font-size="25.5" font-weight="normal" fill="#000" stroke="#fff" stroke-width="0.35" textLength="30" lengthAdjust="spacingAndGlyphs">01</text>
<text x="487" y="970.8" font-family="Liberation Sans" font-size="25.5" font-weight="normal" fill="#000" stroke="#fff" stroke-width="0.35" textLength="42.5" lengthAdjust="spacingAndGlyphs">&#1086;&#1082;&#1090;</text>
<text x="548" y="970.8" font-family="Liberation Sans" font-size="25.5" font-weight="normal" fill="#000" stroke="#fff" stroke-width="0.35" textLength="66.5" lengthAdjust="spacingAndGlyphs">2025</text>
<text x="633" y="970.8" font-family="Liberation Serif" font-size="27.5" font-weight="normal" fill="#000" stroke="#fff" stroke-width="0.2" textLength="118" lengthAdjust="spacingAndGlyphs">(UTC+0)</text>
<text x="62.5" y="1006.6" font-family="Liberation Serif" font-size="27" font-weight="normal" fill="#000" stroke="#000" stroke-width="0.55" textLength="96" lengthAdjust="spacingAndGlyphs">COSMO</text>
<line x1="162" y1="997.8" x2="178.5" y2="997.8" stroke="#000" stroke-width="2"/>
<text x="183" y="1006.6" font-family="Liberation Serif" font-size="27" font-weight="normal" fill="#000" stroke="#000" stroke-width="0.55" textLength="79" lengthAdjust="spacingAndGlyphs">RuSib</text>
<text x="281" y="1006.6" font-family="Liberation Sans" font-size="25" font-weight="bold" fill="#000" textLength="43" lengthAdjust="spacingAndGlyphs">6.6</text>
<text x="325.5" y="1006.6" font-family="Liberation Sans" font-size="24" font-weight="normal" fill="#000" stroke="#fff" stroke-width="0.1" textLength="27.5" lengthAdjust="spacingAndGlyphs">&#1082;&#1084;</text>
<rect x="876.5" y="982.5" width="350" height="36" fill="#fff" stroke="#a8a8a8" stroke-width="1"/>
<line x1="882" y1="999.8" x2="918" y2="999.8" stroke="#ff3c3c" stroke-width="1.6"/>
<text x="922.5" y="1008.6" font-family="Liberation Sans" font-size="21.5" font-weight="normal" fill="#000" stroke="#000" stroke-width="0.55" textLength="138" lengthAdjust="spacingAndGlyphs">&#1058;&#1077;&#1084;&#1087;&#1077;&#1088;&#1072;&#1090;&#1091;&#1088;&#1072;</text>
<text x="1074" y="1008.6" font-family="Liberation Sans" font-size="21.5" font-weight="normal" fill="#000" stroke="#000" stroke-width="0.55" textLength="23" lengthAdjust="spacingAndGlyphs">&#1085;&#1072;</text>
<text x="1111" y="1008.6" font-family="Liberation Sans" font-size="21.5" font-weight="normal" fill="#000" stroke="#000" stroke-width="0.55" textLength="81" lengthAdjust="spacingAndGlyphs">500&#1075;&#1055;&#1072;</text>
</svg></body></html>
